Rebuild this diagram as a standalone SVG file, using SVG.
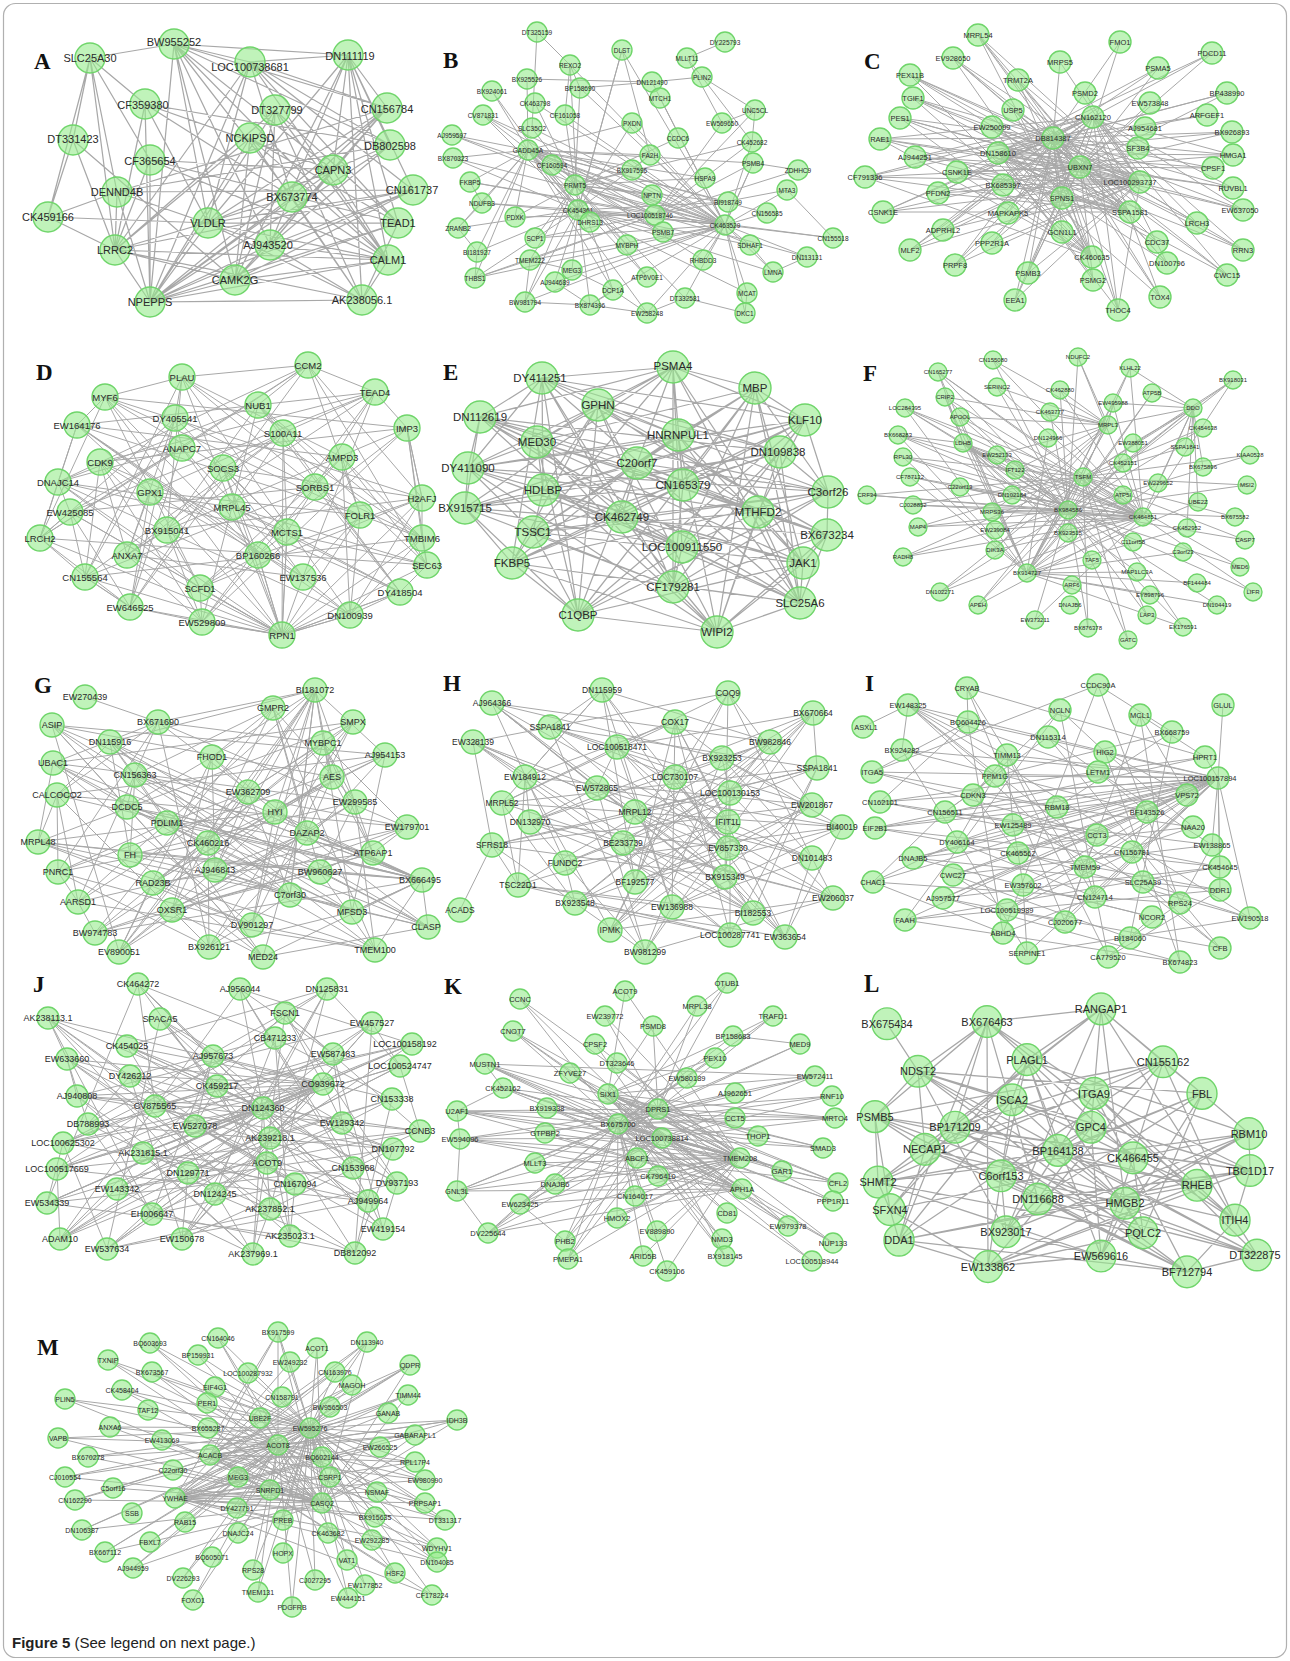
<svg xmlns="http://www.w3.org/2000/svg" width="1290" height="1661" viewBox="0 0 1290 1661">
<style>
.e{fill:none;stroke:#a8a8a8;stroke-width:1;stroke-linejoin:round}
.ew{stroke-width:1.25}
circle{fill:rgb(150,235,140);fill-opacity:.6;stroke:#6fd56a;stroke-width:1.4}
text{font-family:"Liberation Sans",Arial,sans-serif;fill:#2a2a2a;text-anchor:middle;dominant-baseline:central}
.pa text,.pl2 text{font-size:11px}
.pb text{font-size:6.5px}
.pc text{font-size:7.5px}
.pd text{font-size:9.5px}
.pe text{font-size:11.5px}
.pf text{font-size:6px}
.pg text{font-size:9px}
.ph text{font-size:8.5px}
.pi text{font-size:7.5px}
.pj text{font-size:9px}
.pk text{font-size:7.5px}
.pm text{font-size:7px}
svg text.lab{font-family:"Liberation Serif","Times New Roman",serif;font-weight:bold;font-size:23px;fill:#111;text-anchor:start;dominant-baseline:auto}
svg text.cap{font-size:15px;text-anchor:start;dominant-baseline:auto;fill:#222}
</style>
<rect x="3.5" y="3.5" width="1283" height="1654" rx="12" fill="#fff" stroke="#b0b0b0" stroke-width="1.2"/>
<g id="connectors">
<path class="e ew" d="M48 217L90 58L174 44L348 55L250 62L174 44L208 223L348 55L362 300L150 302L115 250L48 217L73 140L90 58L115 250L150 302L174 44L270 245L348 55L388 260L150 302L387 108L174 44L235 280L348 55L398 223L150 302L413 190L250 62L292 197L174 44L333 170L150 302L390 145L174 44L388 260 M90 58L145 104L150 302L275 110L235 280L387 108L208 223L413 190L117 192L270 245L390 145L208 223L398 223L250 138L150 302L333 170L145 104L292 197L362 300L250 138L235 280L413 190L208 223L388 260L150 160L150 302L270 245L117 192L90 58L150 160L333 170L235 280L115 250L362 300L270 245L388 260L235 280L150 302 M250 62L390 145L117 192L387 108L292 197L115 250L250 62L150 302L208 223L250 62L398 223L348 55L390 145L348 55L413 190L348 55L333 170L348 55L387 108L250 62L388 260L250 138L115 250L413 190L270 245L275 110L362 300L208 223L48 217L117 192L413 190L115 250L388 260L362 300L292 197L388 260L275 110L398 223L150 160L115 250L145 104L208 223L333 170L388 260 M73 140L115 250L235 280L73 140L48 217L208 223L145 104L390 145L150 302L117 192L115 250L275 110L150 302L292 197L145 104L333 170L270 245L387 108L235 280L270 245L362 300L398 223L235 280"/>
<path class="e" d="M528 150L725 225L532 128 M535 103L725 225L552 165 M470 182L725 225L482 203 M575 185L725 225L578 210 M535 238L725 225L530 260 M475 278L725 225L525 302 M590 305L725 225L555 282 M572 270L725 225L565 115 M580 88L725 225L570 65 M622 50L725 225L652 82 M660 98L725 225L632 123 M650 155L725 225L632 170 M752 142L725 225L753 163 M787 190L725 225L767 213 M833 238L725 225L807 257 M750 245L725 225L773 272 M747 293L725 225L745 313 M685 298L725 225L647 313 M703 260L725 225L453 158 M483 115L725 225L452 135 M527 79L528 150L492 91 M483 115L528 150L452 135 M453 158L528 150L470 182 M482 203L528 150L458 228 M477 252L528 150L475 278 M515 217L528 150L575 185 M578 210L528 150L632 170 M652 195L528 150L655 215 M663 232L528 150L590 222 M627 245L528 150L647 277 M728 202L528 150L705 178 M753 163L528 150L767 213 M750 245L528 150L703 260 M613 290L528 150L647 313 M632 123L528 150L650 155 M532 128L575 185L535 103 M580 88L575 185L565 115 M632 170L575 185L652 195 M655 215L575 185L663 232 M627 245L575 185L613 290 M647 277L575 185L685 298 M728 202L575 185L705 178 M678 138L575 185L752 142 M535 238L575 185L515 217 M530 260L575 185L525 302 M492 91L578 210L483 115 M453 158L578 210L458 228 M477 252L578 210L475 278 M525 302L578 210L590 305 M555 282L578 210L572 270 M663 232L578 210L725 225 M728 202L578 210L750 245 M773 272L578 210L747 293 M650 155L578 210L632 123 M622 50L578 210L570 65 M483 115L655 215L452 135 M470 182L655 215L482 203 M515 217L655 215L535 238 M530 260L655 215L475 278 M798 170L655 215L787 190 M833 238L655 215L807 257 M755 110L655 215L722 123 M752 142L655 215L753 163 M537 32L570 65L565 115 M537 32L532 128 M725 42L687 58L702 77L752 142L755 110L722 123 M687 58L722 123 M702 77L755 110 M622 50L650 155L632 170 M622 50L578 210 M570 65L580 88L652 82L702 77 M527 79L652 82 M798 170L753 163L725 225 M787 190L833 238 M807 257L773 272L750 245 M747 293L745 313 M475 278L477 252L458 228L482 203L470 182 M525 302L590 305L555 282 M613 290L590 305 M530 260L525 302 M475 278L530 260L572 270L613 290L647 313L685 298L745 313 M590 305L647 313"/>
<path class="e" d="M978 35L1053 138L953 58 M910 75L1053 138L913 98 M900 118L1053 138L880 139 M915 157L1053 138L865 177 M938 193L1053 138L883 212 M943 230L1053 138L910 250 M955 265L1053 138L1015 300 M1028 273L1053 138L1118 310 M1093 280L1053 138L1160 297 M1167 263L1053 138L1243 250 M1227 275L1053 138L1197 223 M1157 242L1053 138L1243 210 M1233 188L1053 138L1213 168 M1233 155L1053 138L1232 132 M1207 115L1053 138L1227 93 M1212 53L1053 138L1158 68 M1120 42L1053 138L1060 62 M1140 182L1053 138L1130 212 M1062 232L1053 138L1092 257 M1062 198L1053 138L1008 213 M978 35L1080 167L1018 80 M953 58L1080 167L1013 110 M910 75L1080 167L900 118 M913 98L1080 167L880 139 M915 157L1080 167L865 177 M957 172L1080 167L883 212 M938 193L1080 167L910 250 M943 230L1080 167L955 265 M992 243L1080 167L1015 300 M1028 273L1080 167L1093 280 M1118 310L1080 167L1160 297 M1167 263L1080 167L1227 275 M1243 250L1080 167L1197 223 M1243 210L1080 167L1233 188 M1233 155L1080 167L1213 168 M1232 132L1080 167L1227 93 M1212 53L1080 167L1120 42 M1158 68L1080 167L1150 103 M978 35L1140 182L953 58 M910 75L1140 182L913 98 M900 118L1140 182L880 139 M915 157L1140 182L865 177 M957 172L1140 182L938 193 M883 212L1140 182L910 250 M943 230L1140 182L955 265 M992 243L1140 182L1028 273 M1015 300L1140 182L1118 310 M998 153L1140 182L1003 185 M1013 110L1140 182L992 127 M1018 80L1140 182L1060 62 M1085 93L1140 182L1093 117 M865 177L1093 117L880 139 M883 212L1093 117L910 250 M955 265L1093 117L1015 300 M1028 273L1093 117L1118 310 M1160 297L1093 117L1167 263 M1243 250L1093 117L1227 275 M1197 223L1093 117L1243 210 M1233 188L1093 117L1233 155 M957 172L1093 117L915 157 M938 193L1093 117L943 230 M992 243L1093 117L1008 213 M953 58L1130 212L910 75 M913 98L1130 212L900 118 M880 139L1130 212L915 157 M865 177L1130 212L883 212 M978 35L1130 212L1018 80 M1013 110L1130 212L992 127 M998 153L1130 212L957 172 M1003 185L1130 212L938 193 M1212 53L998 153L1158 68 M1227 93L998 153L1207 115 M1232 132L998 153L1233 155 M1213 168L998 153L1233 188 M1243 210L998 153L1243 250 M1227 275L998 153L1160 297 M1118 310L998 153L1093 280 M1157 242L998 153L1167 263 M978 35L1092 257L953 58 M910 75L1092 257L1018 80 M913 98L1092 257L1013 110 M900 118L1092 257L992 127 M880 139L1092 257L998 153 M865 177L1092 257L957 172"/>
<path class="e" d="M308 365L258 405L283 433L223 468L422 498L167 530L127 555L303 577L350 615L182 377L175 418L182 448L58 482L232 507L287 532L258 555L200 588L202 622L375 392L77 425L342 457L315 487L70 512L40 538L427 565L400 592L282 635L105 397L407 428L100 462L150 492L360 515L422 538L85 577L130 607L308 365 M308 365L182 448L70 512L85 577L182 377L342 457L360 515L303 577L375 392L100 462L167 530L200 588L105 397L223 468L287 532L400 592L258 405L58 482L40 538L130 607L175 418L315 487L422 538L350 615L77 425L150 492L127 555L202 622L407 428L422 498L258 555L282 635L283 433L232 507L427 565L308 365 M308 365L58 482L427 565L258 405L232 507L400 592L283 433L287 532L282 635L223 468L258 555L105 397L422 498L200 588L407 428L167 530L202 622L100 462L127 555L375 392L150 492L303 577L77 425L360 515L350 615L342 457L422 538L182 377L315 487L85 577L175 418L70 512L130 607L182 448L40 538L308 365 M308 365L422 498L350 615L58 482L200 588L342 457L427 565L407 428L422 538L258 405L167 530L182 377L232 507L202 622L315 487L400 592L100 462L85 577L283 433L127 555L175 418L287 532L375 392L70 512L282 635L150 492L130 607L223 468L303 577L182 448L258 555L77 425L40 538L105 397L360 515L308 365 M40 538L282 635L85 577 M130 607L282 635L127 555 M200 588L282 635L202 622 M258 555L282 635L303 577 M350 615L282 635L400 592 M427 565L282 635L422 538 M360 515L282 635L422 498 M287 532L282 635L232 507 M58 482L282 635L70 512 M308 365L375 392L407 428L422 498L422 538L427 565L400 592L350 615L282 635L202 622L130 607L85 577L40 538L70 512L58 482L77 425L105 397L182 377L308 365"/>
<path class="e ew" d="M673 367L598 405L678 435L637 463L543 490L465 508L827 535L803 563L578 615L542 378L480 417L537 442L468 468L828 492L622 517L682 547L673 587L717 632L755 388L805 420L780 452L683 485L758 512L533 532L512 563L800 603L673 367 M673 367L805 420L468 468L465 508L512 563L717 632L480 417L637 463L758 512L682 547L578 615L598 405L780 452L828 492L827 535L800 603L755 388L537 442L543 490L533 532L673 587L542 378L678 435L683 485L622 517L803 563L673 367 M673 367L537 442L758 512L803 563L755 388L637 463L622 517L800 603L480 417L683 485L827 535L717 632L678 435L828 492L512 563L542 378L780 452L465 508L673 587L598 405L468 468L533 532L578 615L805 420L543 490L682 547L673 367 M673 367L637 463L827 535L542 378L468 468L682 547L755 388L683 485L512 563L598 405L543 490L803 563L480 417L828 492L673 587L805 420L758 512L800 603L678 435L465 508L578 615L537 442L622 517L717 632L780 452L533 532L673 367 M673 367L683 485L673 587L537 442L827 535L598 405L758 512L717 632L468 468L803 563L678 435L533 532L755 388L828 492L578 615L637 463L512 563L805 420L622 517L542 378L543 490L800 603L780 452L682 547L480 417L465 508L673 367 M673 367L480 417L780 452L543 490L622 517L512 563L578 615L755 388L678 435L468 468L758 512L827 535L673 587L673 367 M542 378L805 420L637 463L828 492L533 532L803 563L717 632L598 405L537 442L683 485L465 508L682 547L800 603L542 378 M542 378L673 367L755 388L805 420L828 492L827 535L803 563L800 603L717 632L578 615L512 563L465 508L468 468L480 417L542 378"/>
<path class="e" d="M993 360L1068 510L938 372 M997 387L1068 510L945 397 M905 408L1068 510L960 417 M898 435L1068 510L963 443 M903 457L1068 510L910 477 M867 495L1068 510L913 505 M918 527L1068 510L903 557 M940 592L1068 510L978 605 M1035 620L1068 510L1088 628 M1128 640L1068 510L1147 615 M1183 627L1068 510L1217 605 M1253 592L1068 510L1240 567 M1245 540L1068 510L1235 517 M1247 485L1068 510L1250 455 M1203 428L1068 510L1193 408 M1233 380L1068 510L1152 393 M1130 368L1068 510L1078 357 M1060 390L1068 510L1050 412 M997 455L1068 510L1015 470 M960 487L1068 510L992 512 M993 360L1143 517L938 372 M945 397L1143 517L905 408 M898 435L1143 517L903 457 M910 477L1143 517L867 495 M913 505L1143 517L918 527 M903 557L1143 517L940 592 M978 605L1143 517L1035 620 M995 550L1143 517L995 530 M992 512L1143 517L1012 495 M960 487L1143 517L1015 470 M997 455L1143 517L963 443 M960 417L1143 517L997 387 M1078 357L1143 517L1060 390 M1130 368L1143 517L1113 403 M1233 380L1143 517L1193 408 M938 372L1027 573L945 397 M905 408L1027 573L898 435 M903 457L1027 573L910 477 M960 417L1027 573L963 443 M1108 425L1027 573L1133 443 M1123 463L1027 573L1083 477 M1158 483L1027 573L1123 495 M1198 502L1027 573L1187 528 M1183 552L1027 573L1137 572 M1197 583L1027 573L1150 595 M1217 605L1027 573L1183 627 M1130 368L1027 573L1152 393 M1113 403L1027 573L1048 438 M938 372L1083 477L905 408 M898 435L1083 477L903 457 M867 495L1083 477L913 505 M918 527L1083 477L903 557 M940 592L1083 477L978 605 M1088 628L1083 477L1128 640 M1147 615L1083 477L1183 627 M1240 567L1083 477L1253 592 M1235 517L1083 477L1245 540 M1250 455L1083 477L1247 485 M1203 428L1083 477L1185 447 M1233 380L1083 477L1193 408 M993 360L1108 425L1078 357 M997 387L1108 425L1060 390 M1050 412L1108 425L1113 403 M945 397L1108 425L960 417 M997 455L1108 425L1015 470 M992 512L1108 425L995 530 M995 550L1108 425L1027 573 M938 372L963 443L945 397 M905 408L963 443L898 435 M997 455L963 443L1015 470 M1012 495L963 443L1068 510 M1068 533L963 443L1092 560 M1133 542L963 443L1137 572 M1130 368L1193 408L1233 380 M1152 393L1193 408L1113 403 M1108 425L1193 408L1133 443 M1185 447L1193 408L1123 463 M1203 467L1193 408L1158 483 M1198 502L1193 408L1187 528"/>
<path class="e" d="M353 722L53 763L355 802L307 833L215 870L290 895L428 927L263 957L52 725L385 755L57 795L407 827L373 853L153 883L252 925L375 950L273 708L212 757L248 792L167 823L130 855L422 880L352 912L209 947L158 722L323 743L332 777L275 812L38 842L320 872L172 910L119 952L315 690L110 742L135 775L127 807L208 843L58 872L78 902L95 933 M332 777L373 853L95 933L323 743L407 827L78 902L158 722L57 795L58 872L209 947L385 755L208 843L352 912L52 725L127 807L422 880L263 957L135 775L130 855L428 927L110 742L167 823L290 895L315 690L248 792L215 870L119 952L212 757L307 833L172 910L273 708L355 802L320 872L375 950L53 763L38 842L252 925L353 722L275 812L153 883 M275 812L252 925L53 763L320 872L273 708L307 833L119 952L248 792L290 895L110 742L130 855L263 957L127 807L352 912L385 755L58 872L158 722L407 827L95 933L332 777L153 883L353 722L38 842L375 950L355 802L172 910L212 757L215 870L315 690L167 823L428 927L135 775L422 880L52 725L208 843L209 947L57 795L78 902L323 743L373 853 M212 757L127 807L373 853L172 910L263 957L323 743L355 802L130 855L78 902L375 950L110 742L57 795L38 842L290 895L209 947L353 722L248 792L208 843L153 883L119 952L52 725L332 777L307 833L422 880L95 933L273 708L135 775L407 827L320 872L428 927L158 722L53 763L167 823L58 872L252 925L315 690L385 755L275 812L215 870L352 912 M85 697L158 722 M158 722L315 690L212 757 M275 812L315 690L208 843 M290 895L315 690L352 912 M373 853L315 690L332 777 M110 742L422 880L135 775 M57 795L422 880L38 842 M127 807L422 880L167 823 M307 833L422 880L275 812 M428 927L422 880L375 950 M352 912L422 880L320 872"/>
<path class="e" d="M602 690L550 727L817 768L502 803L842 827L565 863L575 903L785 937L492 703L770 742L675 777L635 812L623 843L635 882 M730 935L675 722L722 758L730 793L728 822L812 858L833 898L610 930L728 693L473 742L525 777L812 805L492 845L518 885L672 907L645 952L813 713L617 747L597 788L530 822L728 848L725 877L753 913L602 690 M602 690L770 742L730 793L492 845L725 877L785 937L675 722L525 777L530 822L565 863 M728 693L617 747L502 803L623 843L833 898L645 952L550 727L675 777L728 822L518 885L753 913L492 703L722 758L812 805L728 848L575 903L730 935L473 742L597 788L842 827L635 882L610 930L813 713L817 768L635 812L812 858L672 907L602 690 M602 690L525 777L623 843L753 913L473 742L635 812L725 877L728 693L675 777L728 848L610 930L770 742L530 822L833 898L492 703L597 788L812 858L785 937L617 747L728 822L575 903L813 713L730 793L565 863L645 952L722 758L842 827L672 907L675 722L502 803L518 885L730 935L817 768L492 845L460 910 M550 727L812 805L635 882L602 690 M602 690L502 803L575 903L770 742L623 843L730 935L730 793L833 898L473 742L492 845L645 952L597 788L725 877L550 727L842 827L785 937L675 777L635 882L675 722L728 822L610 930L525 777L518 885L813 713L530 822L753 913L817 768L565 863L492 703L635 812 M722 758L812 858L728 693L812 805L672 907L617 747L728 848L602 690"/>
<path class="e" d="M908 705L1218 778L902 750 M872 772L1218 778L880 802 M875 828L1218 778L873 882 M945 812L1218 778L957 842 M913 858L1218 778L953 875 M943 898L1218 778L905 920 M973 795L1218 778L995 776 M1013 825L1218 778L1018 853 M1023 885L1218 778L1007 910 M1007 755L1218 778L968 722 M1057 807L1218 778L1097 835 M1085 867L1218 778L1095 897 M1065 922L1218 778L1027 953 M1250 918L1218 778L1220 890 M1220 867L1218 778L1212 845 M1147 812L1218 778L1132 852 M1223 705L1218 778L1205 757 M967 688L1205 757L875 828L1220 890L1108 957L1007 755L1013 825L1143 882L1220 948L1048 737L945 812L873 882L1003 933L968 722L880 802L1220 867L905 920L1060 710L973 795L1018 853L1250 918L908 705L1098 772L1212 845L1180 903L1098 685L872 772L1097 835L943 898L1180 962L1105 752L1193 827L1023 885L1027 953L902 750L1147 812L953 875L1130 938L1172 732L1057 807L1085 867L1065 922L1140 715L1187 795L913 858L1152 917 M1132 852L1007 910 M995 776L957 842L1095 897L967 688 M967 688L968 722L872 772L1057 807L957 842L873 882L1180 903L1130 938 M1048 737L1098 772L1147 812L1132 852L1143 882L1250 918L1027 953 M1007 755L973 795L1193 827L913 858L1220 890L905 920L1180 962L1140 715L1205 757L880 802L1097 835L1085 867L1095 897L1003 933L1098 685L1172 732L995 776L945 812L1212 845L953 875L1007 910L1220 948L908 705L902 750 M1013 825L1018 853L1023 885L1152 917L1108 957L1060 710L1105 752L1187 795L875 828L1220 867L943 898L1065 922L967 688 M863 727L908 705L1007 755 M908 705L995 776 M908 705L1085 867"/>
<path class="e" transform="translate(0,-29)" d="M138 1013L213 1085L195 1155L295 1213L290 1265L275 1067L392 1128L267 1192L152 1243L48 1047L130 1105L270 1167L215 1223L355 1282L67 1088L88 1153L188 1202L182 1268L372 1052L77 1125L393 1178L270 1238L327 1018L400 1095L420 1160L117 1218L253 1283L127 1075L263 1137L57 1198L60 1268L285 1042L323 1113L143 1182L368 1230L240 1018L333 1083L342 1152L397 1212L107 1278L412 1073L155 1135L353 1197L383 1258L160 1048L217 1115L63 1172L47 1232L138 1013 M138 1013L155 1135L368 1230L127 1075L393 1178L355 1282L392 1128L47 1232L412 1073L143 1182L253 1283L77 1125L215 1223L275 1067L63 1172L107 1278L323 1113L117 1218L372 1052L270 1167L290 1265L217 1115L397 1212L285 1042L420 1160L182 1268L130 1105L295 1213L160 1048L342 1152L60 1268L400 1095L188 1202L48 1047L195 1155L383 1258L333 1083L57 1198L327 1018L88 1153L152 1243L213 1085L353 1197L240 1018L263 1137L270 1238L67 1088L267 1192L138 1013 M138 1013L275 1067L130 1105L88 1153L393 1178L117 1218L60 1268L240 1018L412 1073L217 1115L195 1155L267 1192L215 1223L182 1268L327 1018L127 1075L323 1113L342 1152L353 1197L47 1232L290 1265L48 1047L67 1088L77 1125L420 1160L57 1198L368 1230L107 1278L160 1048L213 1085L392 1128L270 1167L188 1202L270 1238L253 1283L285 1042L333 1083L155 1135L63 1172L295 1213L152 1243L355 1282L372 1052L400 1095L263 1137L143 1182L397 1212L383 1258L138 1013 M48 1047L263 1137L67 1088 M77 1125L263 1137L63 1172 M57 1198L263 1137L47 1232 M60 1268L263 1137L107 1278 M253 1283L263 1137L355 1282 M383 1258L263 1137L397 1212 M393 1178L263 1137L420 1160 M400 1095L263 1137L412 1073 M372 1052L263 1137L327 1018 M138 1013L263 1137L127 1075 M48 1047L323 1113L67 1088 M88 1153L323 1113L63 1172 M57 1198L323 1113L117 1218 M47 1232L323 1113L60 1268 M107 1278L323 1113L182 1268 M155 1135L323 1113L143 1182 M130 1105L323 1113L77 1125"/>
<path class="e" transform="translate(0,-29)" d="M520 1028L618 1153L513 1060 M485 1093L618 1153L503 1117 M457 1140L618 1153L460 1168 M457 1220L618 1153L488 1262 M520 1233L618 1153L565 1270 M568 1288L618 1153L643 1285 M667 1300L618 1153L657 1260 M617 1247L618 1153L635 1225 M722 1268L618 1153L725 1285 M812 1290L618 1153L833 1272 M833 1230L618 1153L838 1212 M788 1255L618 1153L782 1200 M835 1147L618 1153L832 1125 M815 1105L618 1153L800 1073 M773 1045L618 1153L727 1012 M697 1035L618 1153L733 1065 M715 1087L618 1153L687 1107 M735 1122L618 1153L735 1147 M758 1165L618 1153L740 1187 M823 1177L618 1153L727 1242 M485 1093L740 1187L503 1117 M457 1140L740 1187L460 1168 M457 1220L740 1187L488 1262 M520 1233L740 1187L535 1192 M545 1162L740 1187L547 1137 M570 1102L740 1187L595 1073 M513 1060L740 1187L520 1028 M605 1045L740 1187L625 1020 M617 1092L740 1187L608 1123 M555 1213L740 1187L565 1270 M568 1288L740 1187L617 1247 M657 1260L740 1187L643 1285 M667 1300L740 1187L635 1225 M637 1187L740 1187L658 1205 M485 1093L658 1138L457 1140 M460 1168L658 1138L457 1220 M488 1262L658 1138L520 1233 M503 1117L658 1138L545 1162 M535 1192L658 1138L555 1213 M565 1270L658 1138L568 1288 M788 1255L658 1138L833 1272 M833 1230L658 1138L838 1212 M823 1177L658 1138L835 1147 M832 1125L658 1138L815 1105 M800 1073L658 1138L773 1045 M727 1012L658 1138L697 1035 M653 1055L658 1138L605 1045 M513 1060L662 1167L485 1093 M503 1117L662 1167L457 1140 M460 1168L662 1167L457 1220 M520 1233L662 1167L488 1262 M565 1270L662 1167L568 1288 M520 1028L662 1167L595 1073 M570 1102L662 1167L547 1137 M815 1105L662 1167L832 1125 M835 1147L662 1167L823 1177 M838 1212L662 1167L833 1230 M833 1272L662 1167L788 1255 M812 1290L662 1167L725 1285 M625 1020L608 1123L653 1055 M733 1065L608 1123L715 1087 M815 1105L608 1123L835 1147 M823 1177L608 1123L838 1212 M782 1200L608 1123L788 1255 M742 1218L608 1123L727 1242 M722 1268L608 1123L725 1285 M740 1187L608 1123L758 1165 M485 1093L742 1218L457 1140 M460 1168L742 1218L457 1220 M488 1262L742 1218L520 1233 M545 1162L742 1218L535 1192 M547 1137L742 1218L503 1117 M513 1060L742 1218L570 1102 M485 1093L503 1117L457 1140L460 1168L457 1220L488 1262L520 1233L565 1270 M773 1045L733 1065L800 1073 M727 1012L697 1035 M485 1093L815 1105 M457 1140L835 1147 M460 1168L838 1212"/>
<path class="e ew" transform="matrix(1 0 0 1.056 0 -89.3)" d="M1101 1040L1027 1088L1012 1126L955 1152L1250 1193L1038 1220L1006 1251L1101 1274 M1163 1090L875 1142L925 1173L1001 1198L1125 1224L1143 1252L988 1284L987 1052L1094 1120L1091 1152L1058 1174L878 1204L890 1230L899 1259L1187 1289L918 1099L1202 1120L1249 1158L1133 1181L1197 1207L1235 1240L1257 1273L1101 1040 M1101 1040L1202 1120L1058 1174L1125 1224L1101 1274L1027 1088L1249 1158L878 1204L1143 1252 M1012 1126L1133 1181L890 1230L988 1284L1163 1090L955 1152L1197 1207L899 1259L987 1052L875 1142L1250 1193L1235 1240L1187 1289L1094 1120L925 1173L1038 1220L1257 1273L918 1099L1091 1152L1001 1198L1006 1251L1101 1040 M1101 1040L1091 1152L1038 1220L1187 1289L875 1142L1197 1207L988 1284L1012 1126L878 1204L1101 1274L1202 1120L1001 1198L1257 1273L1094 1120L1250 1193L899 1259L1163 1090L1133 1181L1143 1252L1027 1088L1058 1174L1006 1251L918 1099L925 1173L1235 1240L987 1052L955 1152L890 1230 M1249 1158L1125 1224L1101 1040 M1101 1040L925 1173L899 1259L1012 1126L1125 1224L918 1099L1250 1193L988 1284L1249 1158L1006 1251L1094 1120L1197 1207 M1058 1174L1257 1273L875 1142L890 1230L1027 1088L1001 1198L1187 1289L955 1152L1143 1252L1202 1120L1038 1220L987 1052L1133 1181L1101 1274L1091 1152L1235 1240L1163 1090L878 1204L1101 1040 M887 1054L918 1099 M1101 1040L1163 1090L1202 1120L1249 1158L1250 1193L1235 1240L1257 1273L1187 1289L1101 1274L988 1284L899 1259L890 1230L878 1204L875 1142L918 1099L987 1052L1101 1040"/>
<path class="e" d="M278 1332L310 1428L218 1338 M367 1342L310 1428L317 1348 M290 1362L310 1428L335 1372 M352 1385L310 1428L408 1395 M410 1365L310 1428L457 1420 M415 1435L310 1428L415 1462 M425 1480L310 1428L425 1503 M445 1520L310 1428L437 1548 M437 1562L310 1428L432 1595 M395 1573L310 1428L365 1585 M348 1598L310 1428L347 1560 M372 1540L310 1428L375 1517 M377 1492L310 1428L380 1447 M388 1413L310 1428L330 1407 M282 1397L310 1428L248 1373 M215 1387L310 1428L207 1403 M198 1355L310 1428L150 1343 M152 1372L310 1428L108 1360 M122 1390L310 1428L65 1399 M110 1427L310 1428L58 1438 M88 1457L310 1428L65 1477 M113 1488L310 1428L75 1500 M82 1530L310 1428L105 1552 M133 1568L310 1428L150 1542 M183 1578L310 1428L193 1600 M258 1592L310 1428L292 1607 M315 1580L310 1428L253 1570 M328 1533L310 1428L283 1553 M283 1520L310 1428L238 1533 M108 1360L278 1445L122 1390 M65 1399L278 1445L110 1427 M58 1438L278 1445L88 1457 M65 1477L278 1445L75 1500 M82 1530L278 1445L105 1552 M133 1568L278 1445L150 1542 M183 1578L278 1445L193 1600 M258 1592L278 1445L253 1570 M292 1607L278 1445L315 1580 M348 1598L278 1445L365 1585 M395 1573L278 1445L437 1562 M437 1548L278 1445L445 1520 M425 1503L278 1445L425 1480 M415 1462L278 1445L415 1435 M457 1420L278 1445L408 1395 M410 1365L278 1445L367 1342 M278 1332L278 1445L218 1338 M150 1343L278 1445L152 1372 M108 1360L322 1503L122 1390 M65 1399L322 1503L110 1427 M58 1438L322 1503L88 1457 M65 1477L322 1503L113 1488 M75 1500L322 1503L82 1530 M105 1552L322 1503L133 1568 M150 1343L322 1503L152 1372 M218 1338L322 1503L198 1355 M278 1332L322 1503L317 1348 M367 1342L322 1503L410 1365 M408 1395L322 1503L457 1420 M415 1435L322 1503L415 1462 M367 1342L175 1498L410 1365 M408 1395L175 1498L457 1420 M415 1435L175 1498L415 1462 M425 1480L175 1498L425 1503 M445 1520L175 1498L437 1548 M437 1562L175 1498L432 1595 M352 1385L175 1498L335 1372 M317 1348L175 1498L278 1332 M388 1413L175 1498L380 1447 M377 1492L175 1498L375 1517 M367 1342L210 1455L410 1365 M457 1420L210 1455L415 1435 M415 1462L210 1455L425 1480 M425 1503L210 1455L445 1520 M437 1548L210 1455L437 1562 M432 1595L210 1455L395 1573 M278 1332L210 1455L290 1362 M335 1372L210 1455L352 1385 M238 1477L270 1490L322 1503L238 1477L175 1498L270 1490 M173 1470L322 1503 M237 1508L278 1445 M185 1522L278 1445 M283 1520L175 1498 M162 1440L322 1503 M208 1428L322 1503 M260 1418L322 1503 M330 1477L175 1498 M322 1457L210 1455"/>
</g>
<g id="panel-A" class="pa">
<text class="lab" x="34" y="69">A</text>
<g id="a0"><circle cx="90" cy="58" r="15"/><text x="90" y="58">SLC25A30</text></g>
<g id="a1"><circle cx="174" cy="44" r="15"/><text x="174" y="42">BW955252</text></g>
<g id="a2"><circle cx="250" cy="62" r="15"/><text x="250" y="67">LOC100738681</text></g>
<g id="a3"><circle cx="348" cy="55" r="15"/><text x="350" y="56">DN111119</text></g>
<g id="a4"><circle cx="145" cy="104" r="15"/><text x="143" y="105">CF359380</text></g>
<g id="a5"><circle cx="275" cy="110" r="15"/><text x="277" y="110">DT327799</text></g>
<g id="a6"><circle cx="387" cy="108" r="15"/><text x="387" y="109">CN156784</text></g>
<g id="a7"><circle cx="73" cy="140" r="15"/><text x="73" y="139">DT331423</text></g>
<g id="a8"><circle cx="250" cy="138" r="15"/><text x="250" y="138">NCKIPSD</text></g>
<g id="a9"><circle cx="390" cy="145" r="15"/><text x="390" y="146">DB802598</text></g>
<g id="a10"><circle cx="150" cy="160" r="15"/><text x="150" y="161">CF365654</text></g>
<g id="a11"><circle cx="333" cy="170" r="15"/><text x="333" y="170">CAPN3</text></g>
<g id="a12"><circle cx="117" cy="192" r="15"/><text x="117" y="192">DENND4B</text></g>
<g id="a13"><circle cx="292" cy="197" r="15"/><text x="292" y="197">BX673774</text></g>
<g id="a14"><circle cx="413" cy="190" r="15"/><text x="412" y="190">CN161737</text></g>
<g id="a15"><circle cx="48" cy="217" r="15"/><text x="48" y="217">CK459166</text></g>
<g id="a16"><circle cx="208" cy="223" r="15"/><text x="208" y="223">VLDLR</text></g>
<g id="a17"><circle cx="398" cy="223" r="15"/><text x="398" y="223">TEAD1</text></g>
<g id="a18"><circle cx="270" cy="245" r="15"/><text x="268" y="245">AJ943520</text></g>
<g id="a19"><circle cx="115" cy="250" r="15"/><text x="115" y="250">LRRC2</text></g>
<g id="a20"><circle cx="388" cy="260" r="15"/><text x="388" y="260">CALM1</text></g>
<g id="a21"><circle cx="235" cy="280" r="15"/><text x="235" y="280">CAMK2G</text></g>
<g id="a22"><circle cx="150" cy="302" r="15"/><text x="150" y="302">NPEPPS</text></g>
<g id="a23"><circle cx="362" cy="300" r="15"/><text x="362" y="300">AK238056.1</text></g>
</g>
<g id="panel-B" class="pb">
<text class="lab" x="443" y="68">B</text>
<g id="b0"><circle cx="537" cy="32" r="10"/><text x="537" y="32">DT325159</text></g>
<g id="b1"><circle cx="622" cy="50" r="10"/><text x="622" y="50">DLST</text></g>
<g id="b2"><circle cx="725" cy="42" r="10"/><text x="725" y="42">DY225793</text></g>
<g id="b3"><circle cx="687" cy="58" r="10"/><text x="687" y="58">MLLT11</text></g>
<g id="b4"><circle cx="570" cy="65" r="10"/><text x="570" y="65">REXO2</text></g>
<g id="b5"><circle cx="527" cy="79" r="10"/><text x="527" y="79">BX925526</text></g>
<g id="b6"><circle cx="652" cy="82" r="10"/><text x="652" y="82">DN121490</text></g>
<g id="b7"><circle cx="702" cy="77" r="10"/><text x="702" y="77">PLIN2</text></g>
<g id="b8"><circle cx="580" cy="88" r="10"/><text x="580" y="88">BP158690</text></g>
<g id="b9"><circle cx="492" cy="91" r="10"/><text x="492" y="91">BX924061</text></g>
<g id="b10"><circle cx="535" cy="103" r="10"/><text x="535" y="103">CK463798</text></g>
<g id="b11"><circle cx="660" cy="98" r="10"/><text x="660" y="98">MTCH1</text></g>
<g id="b12"><circle cx="483" cy="115" r="10"/><text x="483" y="115">CV871831</text></g>
<g id="b13"><circle cx="565" cy="115" r="10"/><text x="565" y="115">CF161058</text></g>
<g id="b14"><circle cx="755" cy="110" r="10"/><text x="755" y="110">UNC5CL</text></g>
<g id="b15"><circle cx="532" cy="128" r="10"/><text x="532" y="128">SLC35C2</text></g>
<g id="b16"><circle cx="632" cy="123" r="10"/><text x="632" y="123">PXDN</text></g>
<g id="b17"><circle cx="722" cy="123" r="10"/><text x="722" y="123">EW569650</text></g>
<g id="b18"><circle cx="452" cy="135" r="10"/><text x="452" y="135">AJ959597</text></g>
<g id="b19"><circle cx="678" cy="138" r="10"/><text x="678" y="138">CCDC6</text></g>
<g id="b20"><circle cx="752" cy="142" r="10"/><text x="752" y="142">CK452682</text></g>
<g id="b21"><circle cx="528" cy="150" r="10"/><text x="528" y="150">GADD45A</text></g>
<g id="b22"><circle cx="453" cy="158" r="10"/><text x="453" y="158">BX870323</text></g>
<g id="b23"><circle cx="552" cy="165" r="10"/><text x="552" y="165">CF160594</text></g>
<g id="b24"><circle cx="650" cy="155" r="10"/><text x="650" y="155">FA2H</text></g>
<g id="b25"><circle cx="753" cy="163" r="10"/><text x="753" y="163">PSMB4</text></g>
<g id="b26"><circle cx="798" cy="170" r="10"/><text x="798" y="170">ZDHHC9</text></g>
<g id="b27"><circle cx="632" cy="170" r="10"/><text x="632" y="170">BX917596</text></g>
<g id="b28"><circle cx="705" cy="178" r="10"/><text x="705" y="178">HSPA9</text></g>
<g id="b29"><circle cx="470" cy="182" r="10"/><text x="470" y="182">FKBP5</text></g>
<g id="b30"><circle cx="575" cy="185" r="10"/><text x="575" y="185">PRMT5</text></g>
<g id="b31"><circle cx="787" cy="190" r="10"/><text x="787" y="190">MTA3</text></g>
<g id="b32"><circle cx="652" cy="195" r="10"/><text x="652" y="195">NPTN</text></g>
<g id="b33"><circle cx="728" cy="202" r="10"/><text x="728" y="202">BI918749</text></g>
<g id="b34"><circle cx="482" cy="203" r="10"/><text x="482" y="203">NDUFB3</text></g>
<g id="b35"><circle cx="578" cy="210" r="10"/><text x="578" y="210">CK454361</text></g>
<g id="b36"><circle cx="655" cy="215" r="10"/><text x="650" y="215">LOC100518746</text></g>
<g id="b37"><circle cx="767" cy="213" r="10"/><text x="767" y="213">CN156585</text></g>
<g id="b38"><circle cx="515" cy="217" r="10"/><text x="515" y="217">PDXK</text></g>
<g id="b39"><circle cx="725" cy="225" r="10"/><text x="725" y="225">CK463529</text></g>
<g id="b40"><circle cx="590" cy="222" r="10"/><text x="590" y="222">DHRS13</text></g>
<g id="b41"><circle cx="458" cy="228" r="10"/><text x="458" y="228">ZRANB2</text></g>
<g id="b42"><circle cx="663" cy="232" r="10"/><text x="663" y="232">PSMB7</text></g>
<g id="b43"><circle cx="833" cy="238" r="10"/><text x="833" y="238">CN155518</text></g>
<g id="b44"><circle cx="535" cy="238" r="10"/><text x="535" y="238">SCP1</text></g>
<g id="b45"><circle cx="750" cy="245" r="10"/><text x="750" y="245">SDHAF1</text></g>
<g id="b46"><circle cx="477" cy="252" r="10"/><text x="477" y="252">BI181927</text></g>
<g id="b47"><circle cx="627" cy="245" r="10"/><text x="627" y="245">MYBPH</text></g>
<g id="b48"><circle cx="807" cy="257" r="10"/><text x="807" y="257">DN113131</text></g>
<g id="b49"><circle cx="530" cy="260" r="10"/><text x="530" y="260">TMEM222</text></g>
<g id="b50"><circle cx="703" cy="260" r="10"/><text x="703" y="260">RHBDD3</text></g>
<g id="b51"><circle cx="572" cy="270" r="10"/><text x="572" y="270">MEG3</text></g>
<g id="b52"><circle cx="773" cy="272" r="10"/><text x="773" y="272">LMNA</text></g>
<g id="b53"><circle cx="647" cy="277" r="10"/><text x="647" y="277">ATP6V0E1</text></g>
<g id="b54"><circle cx="475" cy="278" r="10"/><text x="475" y="278">THBS1</text></g>
<g id="b55"><circle cx="555" cy="282" r="10"/><text x="555" y="282">AJ944689</text></g>
<g id="b56"><circle cx="613" cy="290" r="10"/><text x="613" y="290">DCP1A</text></g>
<g id="b57"><circle cx="747" cy="293" r="10"/><text x="747" y="293">MCAT</text></g>
<g id="b58"><circle cx="525" cy="302" r="10"/><text x="525" y="302">BW981794</text></g>
<g id="b59"><circle cx="590" cy="305" r="10"/><text x="590" y="305">BX874396</text></g>
<g id="b60"><circle cx="685" cy="298" r="10"/><text x="685" y="298">DT332581</text></g>
<g id="b61"><circle cx="647" cy="313" r="10"/><text x="647" y="313">EW258248</text></g>
<g id="b62"><circle cx="745" cy="313" r="10"/><text x="745" y="313">DKC1</text></g>
</g>
<g id="panel-C" class="pc">
<text class="lab" x="864" y="69">C</text>
<g id="c0"><circle cx="978" cy="35" r="11"/><text x="978" y="35">MRPL54</text></g>
<g id="c1"><circle cx="1120" cy="42" r="11"/><text x="1120" y="42">FMO1</text></g>
<g id="c2"><circle cx="1212" cy="53" r="11"/><text x="1212" y="53">PDCD11</text></g>
<g id="c3"><circle cx="953" cy="58" r="11"/><text x="953" y="58">EV928650</text></g>
<g id="c4"><circle cx="1060" cy="62" r="11"/><text x="1060" y="62">MRPS5</text></g>
<g id="c5"><circle cx="1158" cy="68" r="11"/><text x="1158" y="68">PSMA5</text></g>
<g id="c6"><circle cx="910" cy="75" r="11"/><text x="910" y="75">PEX11B</text></g>
<g id="c7"><circle cx="1018" cy="80" r="11"/><text x="1018" y="80">TRMT2A</text></g>
<g id="c8"><circle cx="1085" cy="93" r="11"/><text x="1085" y="93">PSMD2</text></g>
<g id="c9"><circle cx="1227" cy="93" r="11"/><text x="1227" y="93">BP438990</text></g>
<g id="c10"><circle cx="913" cy="98" r="11"/><text x="913" y="98">TGIF1</text></g>
<g id="c11"><circle cx="1150" cy="103" r="11"/><text x="1150" y="103">EW573848</text></g>
<g id="c12"><circle cx="1013" cy="110" r="11"/><text x="1013" y="110">USP5</text></g>
<g id="c13"><circle cx="1093" cy="117" r="11"/><text x="1093" y="117">CN162120</text></g>
<g id="c14"><circle cx="1207" cy="115" r="11"/><text x="1207" y="115">ARFGEF1</text></g>
<g id="c15"><circle cx="900" cy="118" r="11"/><text x="900" y="118">PES1</text></g>
<g id="c16"><circle cx="992" cy="127" r="11"/><text x="992" y="127">EW250099</text></g>
<g id="c17"><circle cx="1145" cy="128" r="11"/><text x="1145" y="128">AJ954681</text></g>
<g id="c18"><circle cx="1232" cy="132" r="11"/><text x="1232" y="132">BX926893</text></g>
<g id="c19"><circle cx="880" cy="139" r="11"/><text x="880" y="139">RAE1</text></g>
<g id="c20"><circle cx="1053" cy="138" r="11"/><text x="1053" y="138">DB814387</text></g>
<g id="c21"><circle cx="1138" cy="148" r="11"/><text x="1138" y="148">SF3B4</text></g>
<g id="c22"><circle cx="1233" cy="155" r="11"/><text x="1233" y="155">HMGA1</text></g>
<g id="c23"><circle cx="915" cy="157" r="11"/><text x="915" y="157">AJ944251</text></g>
<g id="c24"><circle cx="998" cy="153" r="11"/><text x="998" y="153">DN158610</text></g>
<g id="c25"><circle cx="1080" cy="167" r="11"/><text x="1080" y="167">UBXN7</text></g>
<g id="c26"><circle cx="865" cy="177" r="11"/><text x="865" y="177">CF791336</text></g>
<g id="c27"><circle cx="957" cy="172" r="11"/><text x="957" y="172">CSNK1E</text></g>
<g id="c28"><circle cx="1213" cy="168" r="11"/><text x="1213" y="168">CPSF1</text></g>
<g id="c29"><circle cx="1140" cy="182" r="11"/><text x="1130" y="182">LOC100293737</text></g>
<g id="c30"><circle cx="1003" cy="185" r="11"/><text x="1003" y="185">BX685397</text></g>
<g id="c31"><circle cx="1233" cy="188" r="11"/><text x="1233" y="188">RUVBL1</text></g>
<g id="c32"><circle cx="938" cy="193" r="11"/><text x="938" y="193">PFDN2</text></g>
<g id="c33"><circle cx="1062" cy="198" r="11"/><text x="1062" y="198">SPNS1</text></g>
<g id="c34"><circle cx="883" cy="212" r="11"/><text x="883" y="212">CSNK1E</text></g>
<g id="c35"><circle cx="1008" cy="213" r="11"/><text x="1008" y="213">MAPKAPK5</text></g>
<g id="c36"><circle cx="1130" cy="212" r="11"/><text x="1130" y="212">SSPA1581</text></g>
<g id="c37"><circle cx="1243" cy="210" r="11"/><text x="1240" y="210">EW637050</text></g>
<g id="c38"><circle cx="1197" cy="223" r="11"/><text x="1197" y="223">LRCH3</text></g>
<g id="c39"><circle cx="943" cy="230" r="11"/><text x="943" y="230">ADPRHL2</text></g>
<g id="c40"><circle cx="1062" cy="232" r="11"/><text x="1062" y="232">GCN1L1</text></g>
<g id="c41"><circle cx="992" cy="243" r="11"/><text x="992" y="243">PPP2R1A</text></g>
<g id="c42"><circle cx="1157" cy="242" r="11"/><text x="1157" y="242">CDC37</text></g>
<g id="c43"><circle cx="910" cy="250" r="11"/><text x="910" y="250">MLF2</text></g>
<g id="c44"><circle cx="1243" cy="250" r="11"/><text x="1243" y="250">RRN3</text></g>
<g id="c45"><circle cx="955" cy="265" r="11"/><text x="955" y="265">PRPF8</text></g>
<g id="c46"><circle cx="1092" cy="257" r="11"/><text x="1092" y="257">CK460635</text></g>
<g id="c47"><circle cx="1167" cy="263" r="11"/><text x="1167" y="263">DN100796</text></g>
<g id="c48"><circle cx="1028" cy="273" r="11"/><text x="1028" y="273">PSMB3</text></g>
<g id="c49"><circle cx="1227" cy="275" r="11"/><text x="1227" y="275">CWC15</text></g>
<g id="c50"><circle cx="1093" cy="280" r="11"/><text x="1093" y="280">PSMG2</text></g>
<g id="c51"><circle cx="1015" cy="300" r="11"/><text x="1015" y="300">EEA1</text></g>
<g id="c52"><circle cx="1160" cy="297" r="11"/><text x="1160" y="297">TOX4</text></g>
<g id="c53"><circle cx="1118" cy="310" r="11"/><text x="1118" y="310">THOC4</text></g>
</g>
<g id="panel-D" class="pd">
<text class="lab" x="36" y="380">D</text>
<g id="d0"><circle cx="308" cy="365" r="13"/><text x="308" y="365">CCM2</text></g>
<g id="d1"><circle cx="182" cy="377" r="13"/><text x="182" y="377">PLAU</text></g>
<g id="d2"><circle cx="375" cy="392" r="13"/><text x="375" y="392">TEAD4</text></g>
<g id="d3"><circle cx="105" cy="397" r="13"/><text x="105" y="397">MYF6</text></g>
<g id="d4"><circle cx="258" cy="405" r="13"/><text x="258" y="405">NUB1</text></g>
<g id="d5"><circle cx="175" cy="418" r="13"/><text x="175" y="418">DY405541</text></g>
<g id="d6"><circle cx="77" cy="425" r="13"/><text x="77" y="425">EW164176</text></g>
<g id="d7"><circle cx="407" cy="428" r="13"/><text x="407" y="428">IMP3</text></g>
<g id="d8"><circle cx="283" cy="433" r="13"/><text x="283" y="433">S100A11</text></g>
<g id="d9"><circle cx="182" cy="448" r="13"/><text x="182" y="448">ANAPC7</text></g>
<g id="d10"><circle cx="342" cy="457" r="13"/><text x="342" y="457">AMPD3</text></g>
<g id="d11"><circle cx="100" cy="462" r="13"/><text x="100" y="462">CDK9</text></g>
<g id="d12"><circle cx="223" cy="468" r="13"/><text x="223" y="468">SOCS3</text></g>
<g id="d13"><circle cx="58" cy="482" r="13"/><text x="58" y="482">DNAJC14</text></g>
<g id="d14"><circle cx="315" cy="487" r="13"/><text x="315" y="487">SORBS1</text></g>
<g id="d15"><circle cx="150" cy="492" r="13"/><text x="150" y="492">GPX1</text></g>
<g id="d16"><circle cx="422" cy="498" r="13"/><text x="422" y="498">H2AFJ</text></g>
<g id="d17"><circle cx="232" cy="507" r="13"/><text x="232" y="507">MRPL45</text></g>
<g id="d18"><circle cx="70" cy="512" r="13"/><text x="70" y="512">EW425085</text></g>
<g id="d19"><circle cx="360" cy="515" r="13"/><text x="360" y="515">FOLR1</text></g>
<g id="d20"><circle cx="167" cy="530" r="13"/><text x="167" y="530">BX915041</text></g>
<g id="d21"><circle cx="287" cy="532" r="13"/><text x="287" y="532">MCTS1</text></g>
<g id="d22"><circle cx="40" cy="538" r="13"/><text x="40" y="538">LRCH2</text></g>
<g id="d23"><circle cx="422" cy="538" r="13"/><text x="422" y="538">TMBIM6</text></g>
<g id="d24"><circle cx="127" cy="555" r="13"/><text x="127" y="555">ANXA7</text></g>
<g id="d25"><circle cx="258" cy="555" r="13"/><text x="258" y="555">BP160266</text></g>
<g id="d26"><circle cx="427" cy="565" r="13"/><text x="427" y="565">SEC63</text></g>
<g id="d27"><circle cx="85" cy="577" r="13"/><text x="85" y="577">CN155564</text></g>
<g id="d28"><circle cx="303" cy="577" r="13"/><text x="303" y="577">EW137536</text></g>
<g id="d29"><circle cx="200" cy="588" r="13"/><text x="200" y="588">SCFD1</text></g>
<g id="d30"><circle cx="400" cy="592" r="13"/><text x="400" y="592">DY418504</text></g>
<g id="d31"><circle cx="130" cy="607" r="13"/><text x="130" y="607">EW646525</text></g>
<g id="d32"><circle cx="350" cy="615" r="13"/><text x="350" y="615">DN100939</text></g>
<g id="d33"><circle cx="202" cy="622" r="13"/><text x="202" y="622">EW529809</text></g>
<g id="d34"><circle cx="282" cy="635" r="13"/><text x="282" y="635">RPN1</text></g>
</g>
<g id="panel-E" class="pe">
<text class="lab" x="443" y="380">E</text>
<g id="e0"><circle cx="673" cy="367" r="16"/><text x="673" y="366">PSMA4</text></g>
<g id="e1"><circle cx="542" cy="378" r="16"/><text x="540" y="378">DY411251</text></g>
<g id="e2"><circle cx="755" cy="388" r="16"/><text x="755" y="388">MBP</text></g>
<g id="e3"><circle cx="598" cy="405" r="16"/><text x="598" y="405">GPHN</text></g>
<g id="e4"><circle cx="480" cy="417" r="16"/><text x="480" y="417">DN112619</text></g>
<g id="e5"><circle cx="805" cy="420" r="16"/><text x="805" y="420">KLF10</text></g>
<g id="e6"><circle cx="678" cy="435" r="16"/><text x="678" y="435">HNRNPUL1</text></g>
<g id="e7"><circle cx="537" cy="442" r="16"/><text x="537" y="442">MED30</text></g>
<g id="e8"><circle cx="780" cy="452" r="16"/><text x="778" y="452">DN109838</text></g>
<g id="e9"><circle cx="637" cy="463" r="16"/><text x="637" y="463">C20orf7</text></g>
<g id="e10"><circle cx="468" cy="468" r="16"/><text x="468" y="468">DY411090</text></g>
<g id="e11"><circle cx="683" cy="485" r="16"/><text x="683" y="485">CN165379</text></g>
<g id="e12"><circle cx="543" cy="490" r="16"/><text x="543" y="490">HDLBP</text></g>
<g id="e13"><circle cx="828" cy="492" r="16"/><text x="828" y="492">C3orf26</text></g>
<g id="e14"><circle cx="758" cy="512" r="16"/><text x="758" y="512">MTHFD2</text></g>
<g id="e15"><circle cx="465" cy="508" r="16"/><text x="465" y="508">BX915715</text></g>
<g id="e16"><circle cx="622" cy="517" r="16"/><text x="622" y="517">CK462749</text></g>
<g id="e17"><circle cx="533" cy="532" r="16"/><text x="533" y="532">TSSC1</text></g>
<g id="e18"><circle cx="827" cy="535" r="16"/><text x="827" y="535">BX673234</text></g>
<g id="e19"><circle cx="682" cy="547" r="16"/><text x="682" y="547">LOC100911550</text></g>
<g id="e20"><circle cx="512" cy="563" r="16"/><text x="512" y="563">FKBP5</text></g>
<g id="e21"><circle cx="803" cy="563" r="16"/><text x="803" y="563">JAK1</text></g>
<g id="e22"><circle cx="673" cy="587" r="16"/><text x="673" y="587">CF179281</text></g>
<g id="e23"><circle cx="800" cy="603" r="16"/><text x="800" y="603">SLC25A6</text></g>
<g id="e24"><circle cx="578" cy="615" r="16"/><text x="578" y="615">C1QBP</text></g>
<g id="e25"><circle cx="717" cy="632" r="16"/><text x="717" y="632">WIPI2</text></g>
</g>
<g id="panel-F" class="pf">
<text class="lab" x="863" y="381">F</text>
<g id="f0"><circle cx="993" cy="360" r="9"/><text x="993" y="360">CN155080</text></g>
<g id="f1"><circle cx="1078" cy="357" r="9"/><text x="1078" y="357">NDUFC2</text></g>
<g id="f2"><circle cx="938" cy="372" r="9"/><text x="938" y="372">CN165277</text></g>
<g id="f3"><circle cx="1130" cy="368" r="9"/><text x="1130" y="368">KLHL22</text></g>
<g id="f4"><circle cx="1233" cy="380" r="9"/><text x="1233" y="380">BX918031</text></g>
<g id="f5"><circle cx="997" cy="387" r="9"/><text x="997" y="387">SERINC2</text></g>
<g id="f6"><circle cx="1060" cy="390" r="9"/><text x="1060" y="390">CK462880</text></g>
<g id="f7"><circle cx="945" cy="397" r="9"/><text x="945" y="397">CRIP2</text></g>
<g id="f8"><circle cx="1152" cy="393" r="9"/><text x="1152" y="393">ATP5B</text></g>
<g id="f9"><circle cx="905" cy="408" r="9"/><text x="905" y="408">LOC284395</text></g>
<g id="f10"><circle cx="960" cy="417" r="9"/><text x="960" y="417">APOOL</text></g>
<g id="f11"><circle cx="1050" cy="412" r="9"/><text x="1050" y="412">CK463777</text></g>
<g id="f12"><circle cx="1113" cy="403" r="9"/><text x="1113" y="403">EW495988</text></g>
<g id="f13"><circle cx="1193" cy="408" r="9"/><text x="1193" y="408">DDO</text></g>
<g id="f14"><circle cx="1108" cy="425" r="9"/><text x="1108" y="425">MRPL3</text></g>
<g id="f15"><circle cx="1203" cy="428" r="9"/><text x="1203" y="428">CK454638</text></g>
<g id="f16"><circle cx="898" cy="435" r="9"/><text x="898" y="435">BX668283</text></g>
<g id="f17"><circle cx="1048" cy="438" r="9"/><text x="1048" y="438">DN124966</text></g>
<g id="f18"><circle cx="963" cy="443" r="9"/><text x="963" y="443">LDHB</text></g>
<g id="f19"><circle cx="1133" cy="443" r="9"/><text x="1133" y="443">EW388051</text></g>
<g id="f20"><circle cx="1185" cy="447" r="9"/><text x="1185" y="447">SSPA1841</text></g>
<g id="f21"><circle cx="903" cy="457" r="9"/><text x="903" y="457">RPL30</text></g>
<g id="f22"><circle cx="997" cy="455" r="9"/><text x="997" y="455">EW252133</text></g>
<g id="f23"><circle cx="1250" cy="455" r="9"/><text x="1250" y="455">KIAA0528</text></g>
<g id="f24"><circle cx="1123" cy="463" r="9"/><text x="1123" y="463">CK452151</text></g>
<g id="f25"><circle cx="1203" cy="467" r="9"/><text x="1203" y="467">BX675896</text></g>
<g id="f26"><circle cx="910" cy="477" r="9"/><text x="910" y="477">CF787132</text></g>
<g id="f27"><circle cx="1015" cy="470" r="9"/><text x="1015" y="470">IFT122</text></g>
<g id="f28"><circle cx="1083" cy="477" r="9"/><text x="1083" y="477">TSFM</text></g>
<g id="f29"><circle cx="867" cy="495" r="9"/><text x="867" y="495">CRF34</text></g>
<g id="f30"><circle cx="960" cy="487" r="9"/><text x="960" y="487">C22orf13</text></g>
<g id="f31"><circle cx="1158" cy="483" r="9"/><text x="1158" y="483">EW229652</text></g>
<g id="f32"><circle cx="1247" cy="485" r="9"/><text x="1247" y="485">MSI2</text></g>
<g id="f33"><circle cx="1012" cy="495" r="9"/><text x="1012" y="495">DN102184</text></g>
<g id="f34"><circle cx="1123" cy="495" r="9"/><text x="1123" y="495">ATP5I</text></g>
<g id="f35"><circle cx="913" cy="505" r="9"/><text x="913" y="505">CJ028852</text></g>
<g id="f36"><circle cx="1198" cy="502" r="9"/><text x="1198" y="502">UBE2Z</text></g>
<g id="f37"><circle cx="992" cy="512" r="9"/><text x="992" y="512">MRPS36</text></g>
<g id="f38"><circle cx="1068" cy="510" r="9"/><text x="1068" y="510">BX984586</text></g>
<g id="f39"><circle cx="1143" cy="517" r="9"/><text x="1143" y="517">CK464851</text></g>
<g id="f40"><circle cx="1235" cy="517" r="9"/><text x="1235" y="517">BX675582</text></g>
<g id="f41"><circle cx="918" cy="527" r="9"/><text x="918" y="527">MAP4</text></g>
<g id="f42"><circle cx="995" cy="530" r="9"/><text x="995" y="530">EW239084</text></g>
<g id="f43"><circle cx="1187" cy="528" r="9"/><text x="1187" y="528">CK452952</text></g>
<g id="f44"><circle cx="1068" cy="533" r="9"/><text x="1068" y="533">BX923515</text></g>
<g id="f45"><circle cx="1245" cy="540" r="9"/><text x="1245" y="540">CASP7</text></g>
<g id="f46"><circle cx="1133" cy="542" r="9"/><text x="1133" y="542">C11orf58</text></g>
<g id="f47"><circle cx="995" cy="550" r="9"/><text x="995" y="550">DIK3A</text></g>
<g id="f48"><circle cx="903" cy="557" r="9"/><text x="903" y="557">RADH8</text></g>
<g id="f49"><circle cx="1183" cy="552" r="9"/><text x="1183" y="552">C3orf23</text></g>
<g id="f50"><circle cx="1092" cy="560" r="9"/><text x="1092" y="560">TAF5</text></g>
<g id="f51"><circle cx="1240" cy="567" r="9"/><text x="1240" y="567">MED6</text></g>
<g id="f52"><circle cx="1027" cy="573" r="9"/><text x="1027" y="573">BX914727</text></g>
<g id="f53"><circle cx="1137" cy="572" r="9"/><text x="1137" y="572">MAP1LC3A</text></g>
<g id="f54"><circle cx="1197" cy="583" r="9"/><text x="1197" y="583">BF144484</text></g>
<g id="f55"><circle cx="1253" cy="592" r="9"/><text x="1253" y="592">LIFR</text></g>
<g id="f56"><circle cx="1072" cy="585" r="9"/><text x="1072" y="585">ARF6</text></g>
<g id="f57"><circle cx="940" cy="592" r="9"/><text x="940" y="592">DN102271</text></g>
<g id="f58"><circle cx="1150" cy="595" r="9"/><text x="1150" y="595">EY898796</text></g>
<g id="f59"><circle cx="978" cy="605" r="9"/><text x="978" y="605">APEH</text></g>
<g id="f60"><circle cx="1070" cy="605" r="9"/><text x="1070" y="605">DNAJB6</text></g>
<g id="f61"><circle cx="1217" cy="605" r="9"/><text x="1217" y="605">DN104419</text></g>
<g id="f62"><circle cx="1147" cy="615" r="9"/><text x="1147" y="615">LAP3</text></g>
<g id="f63"><circle cx="1035" cy="620" r="9"/><text x="1035" y="620">EW373211</text></g>
<g id="f64"><circle cx="1088" cy="628" r="9"/><text x="1088" y="628">BX876378</text></g>
<g id="f65"><circle cx="1183" cy="627" r="9"/><text x="1183" y="627">EX176591</text></g>
<g id="f66"><circle cx="1128" cy="640" r="9"/><text x="1128" y="640">GATC</text></g>
</g>
<g id="panel-G" class="pg">
<text class="lab" x="34" y="693">G</text>
<g id="g0"><circle cx="85" cy="697" r="12"/><text x="85" y="697">EW270439</text></g>
<g id="g1"><circle cx="315" cy="690" r="12"/><text x="315" y="690">BI181072</text></g>
<g id="g2"><circle cx="158" cy="722" r="12"/><text x="158" y="722">BX671690</text></g>
<g id="g3"><circle cx="273" cy="708" r="12"/><text x="273" y="708">GMPR2</text></g>
<g id="g4"><circle cx="52" cy="725" r="12"/><text x="52" y="725">ASIP</text></g>
<g id="g5"><circle cx="353" cy="722" r="12"/><text x="353" y="722">SMPX</text></g>
<g id="g6"><circle cx="110" cy="742" r="12"/><text x="110" y="742">DN115916</text></g>
<g id="g7"><circle cx="323" cy="743" r="12"/><text x="323" y="743">MYBPC1</text></g>
<g id="g8"><circle cx="212" cy="757" r="12"/><text x="212" y="757">FHOD1</text></g>
<g id="g9"><circle cx="385" cy="755" r="12"/><text x="385" y="755">AJ954153</text></g>
<g id="g10"><circle cx="53" cy="763" r="12"/><text x="53" y="763">UBAC1</text></g>
<g id="g11"><circle cx="135" cy="775" r="12"/><text x="135" y="775">CN156363</text></g>
<g id="g12"><circle cx="332" cy="777" r="12"/><text x="332" y="777">AES</text></g>
<g id="g13"><circle cx="248" cy="792" r="12"/><text x="248" y="792">EW362709</text></g>
<g id="g14"><circle cx="57" cy="795" r="12"/><text x="57" y="795">CALCOCO2</text></g>
<g id="g15"><circle cx="355" cy="802" r="12"/><text x="355" y="802">EW299585</text></g>
<g id="g16"><circle cx="127" cy="807" r="12"/><text x="127" y="807">DCDC5</text></g>
<g id="g17"><circle cx="275" cy="812" r="12"/><text x="275" y="812">HYI</text></g>
<g id="g18"><circle cx="167" cy="823" r="12"/><text x="167" y="823">PDLIM1</text></g>
<g id="g19"><circle cx="407" cy="827" r="12"/><text x="407" y="827">EW179701</text></g>
<g id="g20"><circle cx="307" cy="833" r="12"/><text x="307" y="833">DAZAP2</text></g>
<g id="g21"><circle cx="208" cy="843" r="12"/><text x="208" y="843">CK460216</text></g>
<g id="g22"><circle cx="38" cy="842" r="12"/><text x="38" y="842">MRPL48</text></g>
<g id="g23"><circle cx="130" cy="855" r="12"/><text x="130" y="855">FH</text></g>
<g id="g24"><circle cx="373" cy="853" r="12"/><text x="373" y="853">ATP6AP1</text></g>
<g id="g25"><circle cx="215" cy="870" r="12"/><text x="215" y="870">AJ946843</text></g>
<g id="g26"><circle cx="58" cy="872" r="12"/><text x="58" y="872">PNRC1</text></g>
<g id="g27"><circle cx="320" cy="872" r="12"/><text x="320" y="872">BW960627</text></g>
<g id="g28"><circle cx="422" cy="880" r="12"/><text x="420" y="880">BX666495</text></g>
<g id="g29"><circle cx="153" cy="883" r="12"/><text x="153" y="883">RAD23B</text></g>
<g id="g30"><circle cx="290" cy="895" r="12"/><text x="290" y="895">C7orf30</text></g>
<g id="g31"><circle cx="78" cy="902" r="12"/><text x="78" y="902">AARSD1</text></g>
<g id="g32"><circle cx="172" cy="910" r="12"/><text x="172" y="910">OXSR1</text></g>
<g id="g33"><circle cx="352" cy="912" r="12"/><text x="352" y="912">MFSD3</text></g>
<g id="g34"><circle cx="252" cy="925" r="12"/><text x="252" y="925">DV901297</text></g>
<g id="g35"><circle cx="428" cy="927" r="12"/><text x="426" y="927">CLASP</text></g>
<g id="g36"><circle cx="95" cy="933" r="12"/><text x="95" y="933">BW974783</text></g>
<g id="g37"><circle cx="119" cy="952" r="12"/><text x="119" y="952">EV890051</text></g>
<g id="g38"><circle cx="209" cy="947" r="12"/><text x="209" y="947">BX926121</text></g>
<g id="g39"><circle cx="375" cy="950" r="12"/><text x="375" y="950">TMEM100</text></g>
<g id="g40"><circle cx="263" cy="957" r="12"/><text x="263" y="957">MED24</text></g>
</g>
<g id="panel-H" class="ph">
<text class="lab" x="443" y="691">H</text>
<g id="h0"><circle cx="602" cy="690" r="12"/><text x="602" y="690">DN115959</text></g>
<g id="h1"><circle cx="728" cy="693" r="12"/><text x="728" y="693">COQ9</text></g>
<g id="h2"><circle cx="492" cy="703" r="12"/><text x="492" y="703">AJ964366</text></g>
<g id="h3"><circle cx="813" cy="713" r="12"/><text x="813" y="713">BX670664</text></g>
<g id="h4"><circle cx="675" cy="722" r="12"/><text x="675" y="722">COX17</text></g>
<g id="h5"><circle cx="550" cy="727" r="12"/><text x="550" y="727">SSPA1841</text></g>
<g id="h6"><circle cx="473" cy="742" r="12"/><text x="473" y="742">EW328139</text></g>
<g id="h7"><circle cx="770" cy="742" r="12"/><text x="770" y="742">BW982846</text></g>
<g id="h8"><circle cx="617" cy="747" r="12"/><text x="617" y="747">LOC100518471</text></g>
<g id="h9"><circle cx="722" cy="758" r="12"/><text x="722" y="758">BX923253</text></g>
<g id="h10"><circle cx="817" cy="768" r="12"/><text x="817" y="768">SSPA1841</text></g>
<g id="h11"><circle cx="525" cy="777" r="12"/><text x="525" y="777">EW184912</text></g>
<g id="h12"><circle cx="675" cy="777" r="12"/><text x="675" y="777">LOC730107</text></g>
<g id="h13"><circle cx="597" cy="788" r="12"/><text x="597" y="788">EW572865</text></g>
<g id="h14"><circle cx="730" cy="793" r="12"/><text x="730" y="793">LOC100130153</text></g>
<g id="h15"><circle cx="502" cy="803" r="12"/><text x="502" y="803">MRPL52</text></g>
<g id="h16"><circle cx="812" cy="805" r="12"/><text x="812" y="805">EW201867</text></g>
<g id="h17"><circle cx="635" cy="812" r="12"/><text x="635" y="812">MRPL12</text></g>
<g id="h18"><circle cx="530" cy="822" r="12"/><text x="530" y="822">DN132970</text></g>
<g id="h19"><circle cx="728" cy="822" r="12"/><text x="728" y="822">IFIT1L</text></g>
<g id="h20"><circle cx="842" cy="827" r="12"/><text x="842" y="827">BI40019</text></g>
<g id="h21"><circle cx="492" cy="845" r="12"/><text x="492" y="845">SFRS18</text></g>
<g id="h22"><circle cx="623" cy="843" r="12"/><text x="623" y="843">BE233739</text></g>
<g id="h23"><circle cx="728" cy="848" r="12"/><text x="728" y="848">EV857330</text></g>
<g id="h24"><circle cx="812" cy="858" r="12"/><text x="812" y="858">DN101483</text></g>
<g id="h25"><circle cx="565" cy="863" r="12"/><text x="565" y="863">FUNDC2</text></g>
<g id="h26"><circle cx="518" cy="885" r="12"/><text x="518" y="885">TSC22D1</text></g>
<g id="h27"><circle cx="635" cy="882" r="12"/><text x="635" y="882">BF192577</text></g>
<g id="h28"><circle cx="725" cy="877" r="12"/><text x="725" y="877">BX915349</text></g>
<g id="h29"><circle cx="833" cy="898" r="12"/><text x="833" y="898">EW206037</text></g>
<g id="h30"><circle cx="575" cy="903" r="12"/><text x="575" y="903">BX923548</text></g>
<g id="h31"><circle cx="672" cy="907" r="12"/><text x="672" y="907">EW136988</text></g>
<g id="h32"><circle cx="460" cy="910" r="12"/><text x="460" y="910">ACADS</text></g>
<g id="h33"><circle cx="753" cy="913" r="12"/><text x="753" y="913">BI182553</text></g>
<g id="h34"><circle cx="610" cy="930" r="12"/><text x="610" y="930">IPMK</text></g>
<g id="h35"><circle cx="785" cy="937" r="12"/><text x="785" y="937">EW363654</text></g>
<g id="h36"><circle cx="645" cy="952" r="12"/><text x="645" y="952">BW981299</text></g>
<g id="h37"><circle cx="730" cy="935" r="12"/><text x="730" y="935">LOC100287741</text></g>
</g>
<g id="panel-I" class="pi">
<text class="lab" x="865" y="691">I</text>
<g id="i0"><circle cx="967" cy="688" r="11"/><text x="967" y="688">CRYAB</text></g>
<g id="i1"><circle cx="1098" cy="685" r="11"/><text x="1098" y="685">CCDC90A</text></g>
<g id="i2"><circle cx="1223" cy="705" r="11"/><text x="1223" y="705">GLUL</text></g>
<g id="i3"><circle cx="908" cy="705" r="11"/><text x="908" y="705">EW148325</text></g>
<g id="i4"><circle cx="863" cy="727" r="11"/><text x="866" y="727">ASXL1</text></g>
<g id="i5"><circle cx="1060" cy="710" r="11"/><text x="1060" y="710">NCLN</text></g>
<g id="i6"><circle cx="1140" cy="715" r="11"/><text x="1140" y="715">MCL1</text></g>
<g id="i7"><circle cx="968" cy="722" r="11"/><text x="968" y="722">BQ604426</text></g>
<g id="i8"><circle cx="1172" cy="732" r="11"/><text x="1172" y="732">BX668759</text></g>
<g id="i9"><circle cx="1048" cy="737" r="11"/><text x="1048" y="737">DN115314</text></g>
<g id="i10"><circle cx="902" cy="750" r="11"/><text x="902" y="750">BX924282</text></g>
<g id="i11"><circle cx="1007" cy="755" r="11"/><text x="1007" y="755">TIMM13</text></g>
<g id="i12"><circle cx="1105" cy="752" r="11"/><text x="1105" y="752">HIG2</text></g>
<g id="i13"><circle cx="1205" cy="757" r="11"/><text x="1205" y="757">HPRT1</text></g>
<g id="i14"><circle cx="872" cy="772" r="11"/><text x="872" y="772">ITGA5</text></g>
<g id="i15"><circle cx="995" cy="776" r="11"/><text x="995" y="776">PPM1G</text></g>
<g id="i16"><circle cx="1098" cy="772" r="11"/><text x="1098" y="772">LETM1</text></g>
<g id="i17"><circle cx="1218" cy="778" r="11"/><text x="1210" y="778">LOC100157894</text></g>
<g id="i18"><circle cx="973" cy="795" r="11"/><text x="973" y="795">CDKN3</text></g>
<g id="i19"><circle cx="1187" cy="795" r="11"/><text x="1187" y="795">VPS72</text></g>
<g id="i20"><circle cx="880" cy="802" r="11"/><text x="880" y="802">CN162101</text></g>
<g id="i21"><circle cx="1057" cy="807" r="11"/><text x="1057" y="807">RBM18</text></g>
<g id="i22"><circle cx="945" cy="812" r="11"/><text x="945" y="812">CN156511</text></g>
<g id="i23"><circle cx="1147" cy="812" r="11"/><text x="1147" y="812">BF143526</text></g>
<g id="i24"><circle cx="1013" cy="825" r="11"/><text x="1013" y="825">EW125489</text></g>
<g id="i25"><circle cx="1193" cy="827" r="11"/><text x="1193" y="827">NAA20</text></g>
<g id="i26"><circle cx="875" cy="828" r="11"/><text x="875" y="828">EIF2B1</text></g>
<g id="i27"><circle cx="1097" cy="835" r="11"/><text x="1097" y="835">CCT3</text></g>
<g id="i28"><circle cx="957" cy="842" r="11"/><text x="957" y="842">DY406164</text></g>
<g id="i29"><circle cx="1212" cy="845" r="11"/><text x="1212" y="845">EW138865</text></g>
<g id="i30"><circle cx="1132" cy="852" r="11"/><text x="1132" y="852">CN156781</text></g>
<g id="i31"><circle cx="1018" cy="853" r="11"/><text x="1018" y="853">CK465562</text></g>
<g id="i32"><circle cx="913" cy="858" r="11"/><text x="913" y="858">DNAJB5</text></g>
<g id="i33"><circle cx="1220" cy="867" r="11"/><text x="1220" y="867">CK454645</text></g>
<g id="i34"><circle cx="1085" cy="867" r="11"/><text x="1085" y="867">TMEM59</text></g>
<g id="i35"><circle cx="873" cy="882" r="11"/><text x="873" y="882">CHAC1</text></g>
<g id="i36"><circle cx="953" cy="875" r="11"/><text x="953" y="875">CWC27</text></g>
<g id="i37"><circle cx="1143" cy="882" r="11"/><text x="1143" y="882">SLC25A39</text></g>
<g id="i38"><circle cx="1023" cy="885" r="11"/><text x="1023" y="885">EW357602</text></g>
<g id="i39"><circle cx="1220" cy="890" r="11"/><text x="1220" y="890">DDR1</text></g>
<g id="i40"><circle cx="943" cy="898" r="11"/><text x="943" y="898">AJ957577</text></g>
<g id="i41"><circle cx="1095" cy="897" r="11"/><text x="1095" y="897">CN124714</text></g>
<g id="i42"><circle cx="1180" cy="903" r="11"/><text x="1180" y="903">RPS24</text></g>
<g id="i43"><circle cx="1007" cy="910" r="11"/><text x="1007" y="910">LOC100519989</text></g>
<g id="i44"><circle cx="1250" cy="918" r="11"/><text x="1250" y="918">EW190518</text></g>
<g id="i45"><circle cx="1152" cy="917" r="11"/><text x="1152" y="917">NCOR2</text></g>
<g id="i46"><circle cx="905" cy="920" r="11"/><text x="905" y="920">FAAH</text></g>
<g id="i47"><circle cx="1065" cy="922" r="11"/><text x="1065" y="922">CJ020677</text></g>
<g id="i48"><circle cx="1003" cy="933" r="11"/><text x="1003" y="933">ABHD4</text></g>
<g id="i49"><circle cx="1130" cy="938" r="11"/><text x="1130" y="938">BI184060</text></g>
<g id="i50"><circle cx="1220" cy="948" r="11"/><text x="1220" y="948">CFB</text></g>
<g id="i51"><circle cx="1027" cy="953" r="11"/><text x="1027" y="953">SERPINE1</text></g>
<g id="i52"><circle cx="1108" cy="957" r="11"/><text x="1108" y="957">CA779520</text></g>
<g id="i53"><circle cx="1180" cy="962" r="11"/><text x="1180" y="962">BX674823</text></g>
</g>
<g id="panel-J" class="pj" transform="translate(0,-29)">
<text class="lab" x="33" y="1021">J</text>
<g id="j0"><circle cx="138" cy="1013" r="11"/><text x="138" y="1013">CK464272</text></g>
<g id="j1"><circle cx="240" cy="1018" r="11"/><text x="240" y="1018">AJ956044</text></g>
<g id="j2"><circle cx="327" cy="1018" r="11"/><text x="327" y="1018">DN125831</text></g>
<g id="j3"><circle cx="48" cy="1047" r="11"/><text x="48" y="1047">AK238113.1</text></g>
<g id="j4"><circle cx="160" cy="1048" r="11"/><text x="160" y="1048">SPACA5</text></g>
<g id="j5"><circle cx="285" cy="1042" r="11"/><text x="285" y="1042">FSCN1</text></g>
<g id="j6"><circle cx="372" cy="1052" r="11"/><text x="372" y="1052">EW457527</text></g>
<g id="j7"><circle cx="275" cy="1067" r="11"/><text x="275" y="1067">CB471233</text></g>
<g id="j8"><circle cx="412" cy="1073" r="11"/><text x="405" y="1073">LOC100158192</text></g>
<g id="j9"><circle cx="127" cy="1075" r="11"/><text x="127" y="1075">CK454025</text></g>
<g id="j10"><circle cx="67" cy="1088" r="11"/><text x="67" y="1088">EW633660</text></g>
<g id="j11"><circle cx="213" cy="1085" r="11"/><text x="213" y="1085">AJ957673</text></g>
<g id="j12"><circle cx="333" cy="1083" r="11"/><text x="333" y="1083">EW587483</text></g>
<g id="j13"><circle cx="400" cy="1095" r="11"/><text x="400" y="1095">LOC100524747</text></g>
<g id="j14"><circle cx="130" cy="1105" r="11"/><text x="130" y="1105">DY426212</text></g>
<g id="j15"><circle cx="217" cy="1115" r="11"/><text x="217" y="1115">CK459217</text></g>
<g id="j16"><circle cx="323" cy="1113" r="11"/><text x="323" y="1113">CO939672</text></g>
<g id="j17"><circle cx="77" cy="1125" r="11"/><text x="77" y="1125">AJ940808</text></g>
<g id="j18"><circle cx="392" cy="1128" r="11"/><text x="392" y="1128">CN153338</text></g>
<g id="j19"><circle cx="155" cy="1135" r="11"/><text x="155" y="1135">CV875565</text></g>
<g id="j20"><circle cx="263" cy="1137" r="11"/><text x="263" y="1137">DN124360</text></g>
<g id="j21"><circle cx="88" cy="1153" r="11"/><text x="88" y="1153">DB788993</text></g>
<g id="j22"><circle cx="195" cy="1155" r="11"/><text x="195" y="1155">EW527078</text></g>
<g id="j23"><circle cx="342" cy="1152" r="11"/><text x="342" y="1152">EW129342</text></g>
<g id="j24"><circle cx="420" cy="1160" r="11"/><text x="420" y="1160">CCNB3</text></g>
<g id="j25"><circle cx="270" cy="1167" r="11"/><text x="270" y="1167">AK239218.1</text></g>
<g id="j26"><circle cx="63" cy="1172" r="11"/><text x="63" y="1172">LOC100625302</text></g>
<g id="j27"><circle cx="143" cy="1182" r="11"/><text x="143" y="1182">AK231815.1</text></g>
<g id="j28"><circle cx="393" cy="1178" r="11"/><text x="393" y="1178">DN107792</text></g>
<g id="j29"><circle cx="267" cy="1192" r="11"/><text x="267" y="1192">ACOT9</text></g>
<g id="j30"><circle cx="353" cy="1197" r="11"/><text x="353" y="1197">CN153968</text></g>
<g id="j31"><circle cx="57" cy="1198" r="11"/><text x="57" y="1198">LOC100517669</text></g>
<g id="j32"><circle cx="188" cy="1202" r="11"/><text x="188" y="1202">DN129771</text></g>
<g id="j33"><circle cx="295" cy="1213" r="11"/><text x="295" y="1213">CN167094</text></g>
<g id="j34"><circle cx="397" cy="1212" r="11"/><text x="397" y="1212">DV937193</text></g>
<g id="j35"><circle cx="117" cy="1218" r="11"/><text x="117" y="1218">EW143342</text></g>
<g id="j36"><circle cx="215" cy="1223" r="11"/><text x="215" y="1223">DN124245</text></g>
<g id="j37"><circle cx="47" cy="1232" r="11"/><text x="47" y="1232">EW534339</text></g>
<g id="j38"><circle cx="368" cy="1230" r="11"/><text x="368" y="1230">AJ949964</text></g>
<g id="j39"><circle cx="270" cy="1238" r="11"/><text x="270" y="1238">AK237852.1</text></g>
<g id="j40"><circle cx="152" cy="1243" r="11"/><text x="152" y="1243">EH006647</text></g>
<g id="j41"><circle cx="383" cy="1258" r="11"/><text x="383" y="1258">EW419154</text></g>
<g id="j42"><circle cx="60" cy="1268" r="11"/><text x="60" y="1268">ADAM10</text></g>
<g id="j43"><circle cx="182" cy="1268" r="11"/><text x="182" y="1268">EW150678</text></g>
<g id="j44"><circle cx="290" cy="1265" r="11"/><text x="290" y="1265">AK235023.1</text></g>
<g id="j45"><circle cx="107" cy="1278" r="11"/><text x="107" y="1278">EW537634</text></g>
<g id="j46"><circle cx="253" cy="1283" r="11"/><text x="253" y="1283">AK237969.1</text></g>
<g id="j47"><circle cx="355" cy="1282" r="11"/><text x="355" y="1282">DB812092</text></g>
</g>
<g id="panel-K" class="pk" transform="translate(0,-29)">
<text class="lab" x="444" y="1023">K</text>
<g id="k0"><circle cx="727" cy="1012" r="10"/><text x="727" y="1012">OTUB1</text></g>
<g id="k1"><circle cx="625" cy="1020" r="10"/><text x="625" y="1020">ACOT9</text></g>
<g id="k2"><circle cx="520" cy="1028" r="10"/><text x="520" y="1028">CCNC</text></g>
<g id="k3"><circle cx="697" cy="1035" r="10"/><text x="697" y="1035">MRPL38</text></g>
<g id="k4"><circle cx="605" cy="1045" r="10"/><text x="605" y="1045">EW239772</text></g>
<g id="k5"><circle cx="773" cy="1045" r="10"/><text x="773" y="1045">TRAFD1</text></g>
<g id="k6"><circle cx="653" cy="1055" r="10"/><text x="653" y="1055">PSMD8</text></g>
<g id="k7"><circle cx="513" cy="1060" r="10"/><text x="513" y="1060">CNOT7</text></g>
<g id="k8"><circle cx="733" cy="1065" r="10"/><text x="733" y="1065">BP158683</text></g>
<g id="k9"><circle cx="595" cy="1073" r="10"/><text x="595" y="1073">CPSF2</text></g>
<g id="k10"><circle cx="800" cy="1073" r="10"/><text x="800" y="1073">MED9</text></g>
<g id="k11"><circle cx="617" cy="1092" r="10"/><text x="617" y="1092">DT323646</text></g>
<g id="k12"><circle cx="715" cy="1087" r="10"/><text x="715" y="1087">PEX10</text></g>
<g id="k13"><circle cx="485" cy="1093" r="10"/><text x="485" y="1093">MUSTN1</text></g>
<g id="k14"><circle cx="570" cy="1102" r="10"/><text x="570" y="1102">ZFYVE27</text></g>
<g id="k15"><circle cx="687" cy="1107" r="10"/><text x="687" y="1107">EW580189</text></g>
<g id="k16"><circle cx="815" cy="1105" r="10"/><text x="815" y="1105">EW572411</text></g>
<g id="k17"><circle cx="503" cy="1117" r="10"/><text x="503" y="1117">CK452162</text></g>
<g id="k18"><circle cx="735" cy="1122" r="10"/><text x="735" y="1122">AJ962651</text></g>
<g id="k19"><circle cx="608" cy="1123" r="10"/><text x="608" y="1123">SIX1</text></g>
<g id="k20"><circle cx="832" cy="1125" r="10"/><text x="832" y="1125">RNF10</text></g>
<g id="k21"><circle cx="658" cy="1138" r="10"/><text x="658" y="1138">DPRS1</text></g>
<g id="k22"><circle cx="457" cy="1140" r="10"/><text x="457" y="1140">U2AF1</text></g>
<g id="k23"><circle cx="547" cy="1137" r="10"/><text x="547" y="1137">BX919338</text></g>
<g id="k24"><circle cx="735" cy="1147" r="10"/><text x="735" y="1147">CCT5</text></g>
<g id="k25"><circle cx="835" cy="1147" r="10"/><text x="835" y="1147">MRTO4</text></g>
<g id="k26"><circle cx="618" cy="1153" r="10"/><text x="618" y="1153">BX675700</text></g>
<g id="k27"><circle cx="662" cy="1167" r="10"/><text x="662" y="1167">LOC100738814</text></g>
<g id="k28"><circle cx="545" cy="1162" r="10"/><text x="545" y="1162">GTPBP2</text></g>
<g id="k29"><circle cx="460" cy="1168" r="10"/><text x="460" y="1168">EW594096</text></g>
<g id="k30"><circle cx="758" cy="1165" r="10"/><text x="758" y="1165">THOP1</text></g>
<g id="k31"><circle cx="823" cy="1177" r="10"/><text x="823" y="1177">SMAD3</text></g>
<g id="k32"><circle cx="637" cy="1187" r="10"/><text x="637" y="1187">ABCF1</text></g>
<g id="k33"><circle cx="740" cy="1187" r="10"/><text x="740" y="1187">TMEM208</text></g>
<g id="k34"><circle cx="535" cy="1192" r="10"/><text x="535" y="1192">MLLT3</text></g>
<g id="k35"><circle cx="782" cy="1200" r="10"/><text x="782" y="1200">GAR1</text></g>
<g id="k36"><circle cx="658" cy="1205" r="10"/><text x="658" y="1205">CK796410</text></g>
<g id="k37"><circle cx="838" cy="1212" r="10"/><text x="838" y="1212">CFL2</text></g>
<g id="k38"><circle cx="555" cy="1213" r="10"/><text x="555" y="1213">DNAJB6</text></g>
<g id="k39"><circle cx="742" cy="1218" r="10"/><text x="742" y="1218">APH1A</text></g>
<g id="k40"><circle cx="457" cy="1220" r="10"/><text x="457" y="1220">GNL3L</text></g>
<g id="k41"><circle cx="635" cy="1225" r="10"/><text x="635" y="1225">CN164017</text></g>
<g id="k42"><circle cx="833" cy="1230" r="10"/><text x="833" y="1230">PPP1R11</text></g>
<g id="k43"><circle cx="520" cy="1233" r="10"/><text x="520" y="1233">EW623425</text></g>
<g id="k44"><circle cx="727" cy="1242" r="10"/><text x="727" y="1242">CD81</text></g>
<g id="k45"><circle cx="617" cy="1247" r="10"/><text x="617" y="1247">HMOX2</text></g>
<g id="k46"><circle cx="788" cy="1255" r="10"/><text x="788" y="1255">EW979378</text></g>
<g id="k47"><circle cx="657" cy="1260" r="10"/><text x="657" y="1260">EV889890</text></g>
<g id="k48"><circle cx="488" cy="1262" r="10"/><text x="488" y="1262">DV225644</text></g>
<g id="k49"><circle cx="722" cy="1268" r="10"/><text x="722" y="1268">NMD3</text></g>
<g id="k50"><circle cx="565" cy="1270" r="10"/><text x="565" y="1270">PHB2</text></g>
<g id="k51"><circle cx="833" cy="1272" r="10"/><text x="833" y="1272">NUP133</text></g>
<g id="k52"><circle cx="643" cy="1285" r="10"/><text x="643" y="1285">ARID5B</text></g>
<g id="k53"><circle cx="568" cy="1288" r="10"/><text x="568" y="1288">PMEPA1</text></g>
<g id="k54"><circle cx="725" cy="1285" r="10"/><text x="725" y="1285">BX918145</text></g>
<g id="k55"><circle cx="667" cy="1300" r="10"/><text x="667" y="1300">CK459106</text></g>
<g id="k56"><circle cx="812" cy="1290" r="10"/><text x="812" y="1290">LOC100518944</text></g>
</g>
<g id="panel-L" class="pl2" transform="matrix(1 0 0 1.056 0 -89.3)">
<text class="lab" x="864" y="1024">L</text>
<g id="l0"><circle cx="1101" cy="1040" r="15"/><text x="1101" y="1040">RANGAP1</text></g>
<g id="l1"><circle cx="887" cy="1054" r="15"/><text x="887" y="1054">BX675434</text></g>
<g id="l2"><circle cx="987" cy="1052" r="15"/><text x="987" y="1052">BX676463</text></g>
<g id="l3"><circle cx="918" cy="1099" r="15"/><text x="918" y="1099">NDST2</text></g>
<g id="l4"><circle cx="1027" cy="1088" r="15"/><text x="1027" y="1088">PLAGL1</text></g>
<g id="l5"><circle cx="1163" cy="1090" r="15"/><text x="1163" y="1090">CN155162</text></g>
<g id="l6"><circle cx="1094" cy="1120" r="15"/><text x="1094" y="1120">ITGA9</text></g>
<g id="l7"><circle cx="1202" cy="1120" r="15"/><text x="1202" y="1120">FBL</text></g>
<g id="l8"><circle cx="1012" cy="1126" r="15"/><text x="1012" y="1126">ISCA2</text></g>
<g id="l9"><circle cx="875" cy="1142" r="15"/><text x="875" y="1142">PSMB5</text></g>
<g id="l10"><circle cx="1091" cy="1152" r="15"/><text x="1091" y="1152">GPC4</text></g>
<g id="l11"><circle cx="1249" cy="1158" r="15"/><text x="1249" y="1158">RBM10</text></g>
<g id="l12"><circle cx="955" cy="1152" r="15"/><text x="955" y="1152">BP171209</text></g>
<g id="l13"><circle cx="925" cy="1173" r="15"/><text x="925" y="1173">NECAP1</text></g>
<g id="l14"><circle cx="1058" cy="1174" r="15"/><text x="1058" y="1174">BP164138</text></g>
<g id="l15"><circle cx="1133" cy="1181" r="15"/><text x="1133" y="1181">CK466455</text></g>
<g id="l16"><circle cx="1250" cy="1193" r="15"/><text x="1250" y="1193">TBC1D17</text></g>
<g id="l17"><circle cx="1001" cy="1198" r="15"/><text x="1001" y="1198">C6orf153</text></g>
<g id="l18"><circle cx="878" cy="1204" r="15"/><text x="878" y="1204">SHMT2</text></g>
<g id="l19"><circle cx="1197" cy="1207" r="15"/><text x="1197" y="1207">RHEB</text></g>
<g id="l20"><circle cx="1038" cy="1220" r="15"/><text x="1038" y="1220">DN116688</text></g>
<g id="l21"><circle cx="1125" cy="1224" r="15"/><text x="1125" y="1224">HMGB2</text></g>
<g id="l22"><circle cx="890" cy="1230" r="15"/><text x="890" y="1230">SFXN4</text></g>
<g id="l23"><circle cx="1235" cy="1240" r="15"/><text x="1235" y="1240">ITIH4</text></g>
<g id="l24"><circle cx="1006" cy="1251" r="15"/><text x="1006" y="1251">BX923017</text></g>
<g id="l25"><circle cx="1143" cy="1252" r="15"/><text x="1143" y="1252">PQLC2</text></g>
<g id="l26"><circle cx="899" cy="1259" r="15"/><text x="899" y="1259">DDA1</text></g>
<g id="l27"><circle cx="1257" cy="1273" r="15"/><text x="1255" y="1273">DT322875</text></g>
<g id="l28"><circle cx="1101" cy="1274" r="15"/><text x="1101" y="1274">EW569616</text></g>
<g id="l29"><circle cx="988" cy="1284" r="15"/><text x="988" y="1284">EW133862</text></g>
<g id="l30"><circle cx="1187" cy="1289" r="15"/><text x="1187" y="1289">BF712794</text></g>
</g>
<g id="panel-M" class="pm">
<text class="lab" x="37" y="1355">M</text>
<g id="m0"><circle cx="278" cy="1332" r="10"/><text x="278" y="1332">BX917599</text></g>
<g id="m1"><circle cx="218" cy="1338" r="10"/><text x="218" y="1338">CN164046</text></g>
<g id="m2"><circle cx="367" cy="1342" r="10"/><text x="367" y="1342">DN113940</text></g>
<g id="m3"><circle cx="150" cy="1343" r="10"/><text x="150" y="1343">BQ603693</text></g>
<g id="m4"><circle cx="317" cy="1348" r="10"/><text x="317" y="1348">ACOT1</text></g>
<g id="m5"><circle cx="198" cy="1355" r="10"/><text x="198" y="1355">BP159931</text></g>
<g id="m6"><circle cx="108" cy="1360" r="10"/><text x="108" y="1360">TXNIP</text></g>
<g id="m7"><circle cx="290" cy="1362" r="10"/><text x="290" y="1362">EW249232</text></g>
<g id="m8"><circle cx="410" cy="1365" r="10"/><text x="410" y="1365">QDPR</text></g>
<g id="m9"><circle cx="152" cy="1372" r="10"/><text x="152" y="1372">BX673567</text></g>
<g id="m10"><circle cx="335" cy="1372" r="10"/><text x="335" y="1372">CN163976</text></g>
<g id="m11"><circle cx="248" cy="1373" r="10"/><text x="248" y="1373">LOC100287932</text></g>
<g id="m12"><circle cx="352" cy="1385" r="10"/><text x="352" y="1385">MAGOH</text></g>
<g id="m13"><circle cx="122" cy="1390" r="10"/><text x="122" y="1390">CK458404</text></g>
<g id="m14"><circle cx="215" cy="1387" r="10"/><text x="215" y="1387">EIF4G1</text></g>
<g id="m15"><circle cx="408" cy="1395" r="10"/><text x="408" y="1395">TIMM44</text></g>
<g id="m16"><circle cx="65" cy="1399" r="10"/><text x="65" y="1399">PLIN5</text></g>
<g id="m17"><circle cx="282" cy="1397" r="10"/><text x="282" y="1397">CN158791</text></g>
<g id="m18"><circle cx="330" cy="1407" r="10"/><text x="330" y="1407">BW956503</text></g>
<g id="m19"><circle cx="207" cy="1403" r="10"/><text x="207" y="1403">PER1</text></g>
<g id="m20"><circle cx="148" cy="1410" r="10"/><text x="148" y="1410">TAF12</text></g>
<g id="m21"><circle cx="388" cy="1413" r="10"/><text x="388" y="1413">GANAB</text></g>
<g id="m22"><circle cx="457" cy="1420" r="10"/><text x="457" y="1420">IDH3B</text></g>
<g id="m23"><circle cx="260" cy="1418" r="10"/><text x="260" y="1418">UBE2F</text></g>
<g id="m24"><circle cx="110" cy="1427" r="10"/><text x="110" y="1427">ANXA6</text></g>
<g id="m25"><circle cx="208" cy="1428" r="10"/><text x="208" y="1428">BX655287</text></g>
<g id="m26"><circle cx="310" cy="1428" r="10"/><text x="310" y="1428">EW595276</text></g>
<g id="m27"><circle cx="415" cy="1435" r="10"/><text x="415" y="1435">GABARAPL1</text></g>
<g id="m28"><circle cx="58" cy="1438" r="10"/><text x="58" y="1438">VAPB</text></g>
<g id="m29"><circle cx="162" cy="1440" r="10"/><text x="162" y="1440">EW413069</text></g>
<g id="m30"><circle cx="278" cy="1445" r="10"/><text x="278" y="1445">ACOT8</text></g>
<g id="m31"><circle cx="380" cy="1447" r="10"/><text x="380" y="1447">EW266525</text></g>
<g id="m32"><circle cx="88" cy="1457" r="10"/><text x="88" y="1457">BX670278</text></g>
<g id="m33"><circle cx="210" cy="1455" r="10"/><text x="210" y="1455">ACACB</text></g>
<g id="m34"><circle cx="322" cy="1457" r="10"/><text x="322" y="1457">BQ602144</text></g>
<g id="m35"><circle cx="415" cy="1462" r="10"/><text x="415" y="1462">RPL17P4</text></g>
<g id="m36"><circle cx="65" cy="1477" r="10"/><text x="65" y="1477">CJ010554</text></g>
<g id="m37"><circle cx="173" cy="1470" r="10"/><text x="173" y="1470">C22orf30</text></g>
<g id="m38"><circle cx="238" cy="1477" r="10"/><text x="238" y="1477">MEG3</text></g>
<g id="m39"><circle cx="330" cy="1477" r="10"/><text x="330" y="1477">CSRP1</text></g>
<g id="m40"><circle cx="425" cy="1480" r="10"/><text x="425" y="1480">EW980990</text></g>
<g id="m41"><circle cx="113" cy="1488" r="10"/><text x="113" y="1488">C5orf16</text></g>
<g id="m42"><circle cx="270" cy="1490" r="10"/><text x="270" y="1490">SNRPD1</text></g>
<g id="m43"><circle cx="377" cy="1492" r="10"/><text x="377" y="1492">NSMAF</text></g>
<g id="m44"><circle cx="75" cy="1500" r="10"/><text x="75" y="1500">CN162290</text></g>
<g id="m45"><circle cx="175" cy="1498" r="10"/><text x="175" y="1498">YWHAE</text></g>
<g id="m46"><circle cx="322" cy="1503" r="10"/><text x="322" y="1503">CASQ2</text></g>
<g id="m47"><circle cx="425" cy="1503" r="10"/><text x="425" y="1503">PRPSAP1</text></g>
<g id="m48"><circle cx="132" cy="1513" r="10"/><text x="132" y="1513">SSB</text></g>
<g id="m49"><circle cx="237" cy="1508" r="10"/><text x="237" y="1508">DY427791</text></g>
<g id="m50"><circle cx="375" cy="1517" r="10"/><text x="375" y="1517">BX915635</text></g>
<g id="m51"><circle cx="445" cy="1520" r="10"/><text x="445" y="1520">DT331317</text></g>
<g id="m52"><circle cx="185" cy="1522" r="10"/><text x="185" y="1522">RAB15</text></g>
<g id="m53"><circle cx="283" cy="1520" r="10"/><text x="283" y="1520">PREB</text></g>
<g id="m54"><circle cx="82" cy="1530" r="10"/><text x="82" y="1530">DN106387</text></g>
<g id="m55"><circle cx="238" cy="1533" r="10"/><text x="238" y="1533">DNAJC24</text></g>
<g id="m56"><circle cx="328" cy="1533" r="10"/><text x="328" y="1533">CK463682</text></g>
<g id="m57"><circle cx="372" cy="1540" r="10"/><text x="372" y="1540">EW292285</text></g>
<g id="m58"><circle cx="150" cy="1542" r="10"/><text x="150" y="1542">FBXL7</text></g>
<g id="m59"><circle cx="437" cy="1548" r="10"/><text x="437" y="1548">WDYHV1</text></g>
<g id="m60"><circle cx="105" cy="1552" r="10"/><text x="105" y="1552">BX667112</text></g>
<g id="m61"><circle cx="212" cy="1557" r="10"/><text x="212" y="1557">BQ605071</text></g>
<g id="m62"><circle cx="283" cy="1553" r="10"/><text x="283" y="1553">HOPX</text></g>
<g id="m63"><circle cx="347" cy="1560" r="10"/><text x="347" y="1560">VAT1</text></g>
<g id="m64"><circle cx="437" cy="1562" r="10"/><text x="437" y="1562">DN104085</text></g>
<g id="m65"><circle cx="133" cy="1568" r="10"/><text x="133" y="1568">AJ944959</text></g>
<g id="m66"><circle cx="253" cy="1570" r="10"/><text x="253" y="1570">RPS28</text></g>
<g id="m67"><circle cx="395" cy="1573" r="10"/><text x="395" y="1573">HSF2</text></g>
<g id="m68"><circle cx="183" cy="1578" r="10"/><text x="183" y="1578">DV226293</text></g>
<g id="m69"><circle cx="315" cy="1580" r="10"/><text x="315" y="1580">CJ027295</text></g>
<g id="m70"><circle cx="365" cy="1585" r="10"/><text x="365" y="1585">EW177852</text></g>
<g id="m71"><circle cx="258" cy="1592" r="10"/><text x="258" y="1592">TMEM131</text></g>
<g id="m72"><circle cx="348" cy="1598" r="10"/><text x="348" y="1598">EW444151</text></g>
<g id="m73"><circle cx="432" cy="1595" r="10"/><text x="432" y="1595">CF178224</text></g>
<g id="m74"><circle cx="193" cy="1600" r="10"/><text x="193" y="1600">FOXO1</text></g>
<g id="m75"><circle cx="292" cy="1607" r="10"/><text x="292" y="1607">PDGFRB</text></g>
</g>
<text class="cap" x="12" y="1648"><tspan font-weight="bold">Figure 5</tspan> (See legend on next page.)</text>
</svg>
